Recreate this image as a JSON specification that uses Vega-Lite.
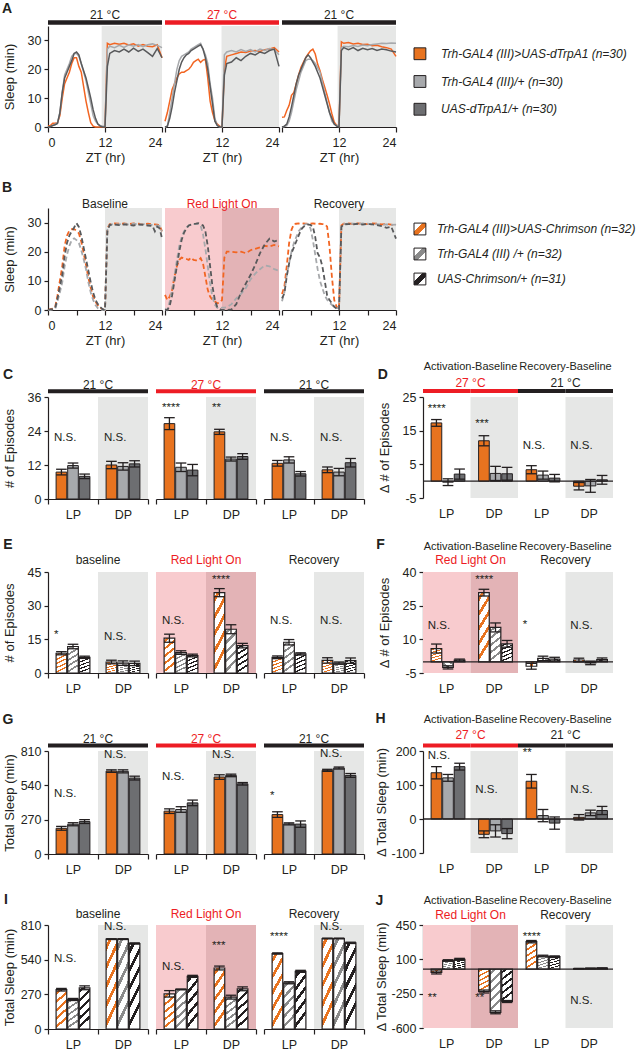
{
"$schema":"https://vega.github.io/schema/vega-lite/v6.json",
"padding":{"left":0,"top":2,"right":0,"bottom":0},
"config":{
 "font":"Liberation Sans",
 "view":{"stroke":null},
 "axis":{"labelFontSize":12.5,"titleFontSize":13,"titleFontWeight":"normal","labelColor":"#231F20","titleColor":"#231F20","domainColor":"#231F20","tickColor":"#231F20","domainWidth":1.2,"tickWidth":1.2,"tickSize":4,"grid":false,"labelPadding":3,"labelOverlap":false,"tickCount":12},
 "text":{"color":"#231F20","fontSize":12},
 "tick":{"bandSize":7,"thickness":1.3,"color":"#231F20","opacity":1},
 "rule":{"color":"#231F20"}
},
"datasets":{
 "PER":[{"p":"LP"},{"p":"DP"}],
 "ONE":[{"p":"LP"}],
 "K":[{"k":"ALP"},{"k":"ADP"},{"k":"RLP"},{"k":"RDP"}],
 "BGA":[{"d":1,"t0":11.3,"t1":24},{"d":2,"t0":11.9,"t1":24},{"d":3,"t0":11.7,"t1":24}],
 "BGB":[{"d":1,"ph":"DP","t0":12,"t1":24},{"d":2,"ph":"LP","t0":0,"t1":12},{"d":2,"ph":"DP","t0":12,"t1":24},{"d":3,"ph":"DP","t0":12,"t1":24}],
 "LGA":[{"g":"a","lab":"Trh-GAL4 (III)>UAS-dTrpA1 (n=30)"},{"g":"b","lab":"Trh-GAL4 (III)/+  (n=30)"},{"g":"c","lab":"UAS-dTrpA1/+  (n=30)"}],
 "LGB":[{"g":"a","lab":"Trh-GAL4 (III)>UAS-Chrimson  (n=32)"},{"g":"b","lab":"Trh-GAL4 (III) /+  (n=32)"},{"g":"c","lab":"UAS-Chrimson/+  (n=31)"}],
 "LA":[
{"d":1,"t":0,"a":0.3,"b":0,"c":0},{"d":1,"t":0.5,"a":0.5,"b":0.2,"c":0.2},{"d":1,"t":1,"a":1.3,"b":0.5,"c":0.5},{"d":1,"t":1.5,"a":1.3,"b":1,"c":0.8},{"d":1,"t":2,"a":1.5,"b":1.5,"c":1.2},{"d":1,"t":2.5,"a":4,"b":5,"c":5},{"d":1,"t":3,"a":10,"b":12,"c":12},{"d":1,"t":3.5,"a":15,"b":18,"c":17},{"d":1,"t":4,"a":17,"b":20,"c":19},{"d":1,"t":4.5,"a":19,"b":22,"c":21},{"d":1,"t":5,"a":22,"b":24.5,"c":23},{"d":1,"t":5.5,"a":24,"b":25.5,"c":25.5},{"d":1,"t":6,"a":24,"b":25.5,"c":26},{"d":1,"t":6.5,"a":21,"b":24.5,"c":25},{"d":1,"t":7,"a":19,"b":22,"c":22},{"d":1,"t":7.5,"a":14,"b":19,"c":19.5},{"d":1,"t":8,"a":9,"b":16,"c":17},{"d":1,"t":8.5,"a":5,"b":12,"c":13.5},{"d":1,"t":9,"a":1.5,"b":8,"c":10},{"d":1,"t":9.5,"a":0.3,"b":4,"c":6},{"d":1,"t":10,"a":0,"b":2,"c":3},{"d":1,"t":10.5,"a":0,"b":1,"c":1},{"d":1,"t":11,"a":0,"b":0.5,"c":0.3},{"d":1,"t":11.5,"a":0,"b":0.3,"c":0},{"d":1,"t":12,"a":0,"b":0.3,"c":0},{"d":1,"t":12.5,"a":29,"b":27,"c":21},{"d":1,"t":13,"a":28.5,"b":28,"c":25.5},{"d":1,"t":14,"a":29,"b":27.5,"c":26.5},{"d":1,"t":15,"a":28.7,"b":28.3,"c":26},{"d":1,"t":16,"a":29,"b":27.6,"c":27},{"d":1,"t":17,"a":28.4,"b":28.5,"c":26},{"d":1,"t":18,"a":28.8,"b":28,"c":27.3},{"d":1,"t":19,"a":28,"b":28.6,"c":26.2},{"d":1,"t":20,"a":28.6,"b":27.8,"c":27},{"d":1,"t":21,"a":28,"b":28.5,"c":25.8},{"d":1,"t":22,"a":27.8,"b":28.8,"c":24.5},{"d":1,"t":23,"a":28.5,"b":28.3,"c":27.2},{"d":1,"t":24,"a":24,"b":27.5,"c":24},
{"d":2,"t":0,"a":2,"b":0,"c":0},{"d":2,"t":0.5,"a":5,"b":0.3,"c":0.3},{"d":2,"t":1,"a":9,"b":5,"c":3},{"d":2,"t":1.5,"a":13,"b":10,"c":7},{"d":2,"t":2,"a":15,"b":15,"c":12},{"d":2,"t":2.5,"a":17,"b":20,"c":16},{"d":2,"t":3,"a":18.4,"b":23,"c":20},{"d":2,"t":3.5,"a":19,"b":24.5,"c":22.5},{"d":2,"t":4,"a":19,"b":25,"c":24},{"d":2,"t":4.5,"a":19.5,"b":25.5,"c":25},{"d":2,"t":5,"a":20,"b":26,"c":25.5},{"d":2,"t":5.5,"a":21,"b":27,"c":26.5},{"d":2,"t":6,"a":22.4,"b":27.5,"c":27},{"d":2,"t":6.5,"a":23,"b":28,"c":27.5},{"d":2,"t":7,"a":23.5,"b":28.5,"c":28},{"d":2,"t":7.5,"a":22.4,"b":29,"c":28.5},{"d":2,"t":8,"a":23.2,"b":27,"c":27},{"d":2,"t":8.5,"a":23.5,"b":25,"c":24},{"d":2,"t":9,"a":17,"b":22,"c":20},{"d":2,"t":9.5,"a":9,"b":15,"c":14},{"d":2,"t":10,"a":5,"b":10,"c":8},{"d":2,"t":10.5,"a":2.3,"b":3,"c":2},{"d":2,"t":11,"a":1,"b":0.5,"c":0.5},{"d":2,"t":11.5,"a":0.3,"b":0,"c":0},{"d":2,"t":12,"a":0,"b":0,"c":0},{"d":2,"t":12.5,"a":20,"b":25,"c":18},{"d":2,"t":13,"a":24.5,"b":26,"c":22},{"d":2,"t":14,"a":25,"b":26.5,"c":22.5},{"d":2,"t":15,"a":25.5,"b":26,"c":24},{"d":2,"t":16,"a":26,"b":26.8,"c":23},{"d":2,"t":17,"a":25.8,"b":26.2,"c":24.5},{"d":2,"t":18,"a":26.3,"b":26.8,"c":25.5},{"d":2,"t":19,"a":26.5,"b":26,"c":25},{"d":2,"t":20,"a":26.2,"b":27,"c":26},{"d":2,"t":21,"a":26.8,"b":26.5,"c":25.5},{"d":2,"t":22,"a":27,"b":27.2,"c":26.5},{"d":2,"t":23,"a":27.5,"b":26.8,"c":27},{"d":2,"t":24,"a":26,"b":25,"c":21},
{"d":3,"t":0,"a":3.4,"b":0,"c":0},{"d":3,"t":0.5,"a":3.5,"b":0.2,"c":0.3},{"d":3,"t":1,"a":5.7,"b":0.5,"c":1},{"d":3,"t":1.5,"a":7.5,"b":2,"c":3.5},{"d":3,"t":2,"a":11,"b":5,"c":7},{"d":3,"t":2.5,"a":12,"b":9,"c":11},{"d":3,"t":3,"a":15,"b":13,"c":15},{"d":3,"t":3.5,"a":18,"b":16,"c":18},{"d":3,"t":4,"a":20.7,"b":19,"c":20},{"d":3,"t":4.5,"a":22.4,"b":21,"c":22},{"d":3,"t":5,"a":24,"b":23,"c":24},{"d":3,"t":5.5,"a":25.3,"b":23.5,"c":25},{"d":3,"t":6,"a":26.4,"b":23.5,"c":24},{"d":3,"t":6.5,"a":27,"b":23,"c":22.5},{"d":3,"t":7,"a":25.3,"b":22,"c":21},{"d":3,"t":7.5,"a":21.8,"b":20.5,"c":19},{"d":3,"t":8,"a":19.5,"b":19,"c":17},{"d":3,"t":8.5,"a":16.5,"b":15.5,"c":14},{"d":3,"t":9,"a":13.8,"b":12,"c":11},{"d":3,"t":9.5,"a":11,"b":8.5,"c":8},{"d":3,"t":10,"a":8,"b":5,"c":5},{"d":3,"t":10.5,"a":4.6,"b":2,"c":3},{"d":3,"t":11,"a":1.7,"b":1,"c":1},{"d":3,"t":11.5,"a":0.6,"b":0.5,"c":0.3},{"d":3,"t":12,"a":0.3,"b":0.5,"c":0},{"d":3,"t":12.5,"a":29.5,"b":27.5,"c":26.5},{"d":3,"t":13,"a":29,"b":28,"c":27.5},{"d":3,"t":14,"a":29.3,"b":27.8,"c":26.8},{"d":3,"t":15,"a":28.8,"b":28.2,"c":27.5},{"d":3,"t":16,"a":29,"b":27.9,"c":26.5},{"d":3,"t":17,"a":28.6,"b":28.4,"c":27.3},{"d":3,"t":18,"a":28.7,"b":28.2,"c":26.8},{"d":3,"t":19,"a":28.2,"b":28.6,"c":27.2},{"d":3,"t":20,"a":28.3,"b":28.8,"c":26.5},{"d":3,"t":21,"a":27.8,"b":29,"c":27},{"d":3,"t":22,"a":27.5,"b":28.9,"c":26.8},{"d":3,"t":23,"a":27,"b":29.1,"c":26.3},{"d":3,"t":24,"a":24.5,"b":29,"c":26}
 ],
 "LB":[
{"d":1,"t":0,"a":0,"b":0,"c":0},{"d":1,"t":0.5,"a":0.3,"b":0,"c":0.2},{"d":1,"t":1,"a":0.5,"b":0.2,"c":0.3},{"d":1,"t":1.5,"a":1,"b":0.3,"c":0.6},{"d":1,"t":2,"a":5,"b":3,"c":4},{"d":1,"t":2.5,"a":10,"b":6,"c":8},{"d":1,"t":3,"a":15,"b":9.5,"c":12},{"d":1,"t":3.5,"a":22,"b":15,"c":18.5},{"d":1,"t":4,"a":25.5,"b":19,"c":23},{"d":1,"t":4.5,"a":27.3,"b":22,"c":25.5},{"d":1,"t":5,"a":27.7,"b":24,"c":27},{"d":1,"t":5.5,"a":27.7,"b":24.6,"c":28.3},{"d":1,"t":6,"a":27.2,"b":24,"c":29.8},{"d":1,"t":6.5,"a":26.3,"b":23,"c":28.5},{"d":1,"t":7,"a":23.5,"b":20.5,"c":25.5},{"d":1,"t":7.5,"a":19.5,"b":17.5,"c":21.5},{"d":1,"t":8,"a":15.5,"b":14,"c":17.5},{"d":1,"t":8.5,"a":11,"b":9.5,"c":13.5},{"d":1,"t":9,"a":7.5,"b":6,"c":9.5},{"d":1,"t":9.5,"a":4.5,"b":3.5,"c":6},{"d":1,"t":10,"a":2.9,"b":1.7,"c":3.5},{"d":1,"t":10.5,"a":1.5,"b":0.6,"c":2},{"d":1,"t":11,"a":0.7,"b":0.2,"c":1},{"d":1,"t":11.5,"a":0.2,"b":0,"c":0.3},{"d":1,"t":12,"a":0,"b":0,"c":0},{"d":1,"t":12.5,"a":28,"b":27.5,"c":27},{"d":1,"t":13,"a":29.5,"b":29.3,"c":29.2},{"d":1,"t":14,"a":29.7,"b":29.5,"c":29.3},{"d":1,"t":15,"a":29.6,"b":29.4,"c":29.1},{"d":1,"t":16,"a":29.7,"b":29.6,"c":29.4},{"d":1,"t":17,"a":29.5,"b":29.3,"c":29.2},{"d":1,"t":18,"a":29.7,"b":29.6,"c":29},{"d":1,"t":19,"a":29.6,"b":29.4,"c":29.3},{"d":1,"t":20,"a":29.5,"b":29.5,"c":29.2},{"d":1,"t":21,"a":29.6,"b":29.3,"c":29},{"d":1,"t":22,"a":29.4,"b":29.2,"c":28.8},{"d":1,"t":22.5,"a":29.4,"b":29.1,"c":27},{"d":1,"t":23,"a":29.3,"b":29,"c":28.6},{"d":1,"t":23.5,"a":29,"b":28.8,"c":28},{"d":1,"t":24,"a":27,"b":27,"c":24.6},
{"d":2,"t":0,"a":5.2,"b":0.5,"c":0},{"d":2,"t":0.5,"a":3.4,"b":0,"c":0},{"d":2,"t":1,"a":4.6,"b":3,"c":1.5},{"d":2,"t":1.5,"a":6.9,"b":7,"c":5},{"d":2,"t":2,"a":11.5,"b":12,"c":10},{"d":2,"t":2.5,"a":15,"b":17,"c":15},{"d":2,"t":3,"a":17.2,"b":22,"c":20},{"d":2,"t":3.5,"a":18,"b":25,"c":24},{"d":2,"t":4,"a":17.7,"b":27,"c":26.5},{"d":2,"t":4.5,"a":17.5,"b":28.3,"c":28},{"d":2,"t":5,"a":17.2,"b":29,"c":29},{"d":2,"t":5.5,"a":18,"b":29.3,"c":29.3},{"d":2,"t":6,"a":17.2,"b":29.5,"c":29.5},{"d":2,"t":6.5,"a":17,"b":29.5,"c":29.6},{"d":2,"t":7,"a":17,"b":29.5,"c":29.8},{"d":2,"t":7.5,"a":17.8,"b":29,"c":29.5},{"d":2,"t":8,"a":16,"b":26,"c":29},{"d":2,"t":8.5,"a":11.5,"b":21,"c":27},{"d":2,"t":9,"a":6.9,"b":15,"c":22},{"d":2,"t":9.5,"a":4.6,"b":9,"c":15},{"d":2,"t":10,"a":3.4,"b":4.5,"c":8},{"d":2,"t":10.5,"a":2.9,"b":1.8,"c":3.5},{"d":2,"t":11,"a":2.3,"b":0.8,"c":1},{"d":2,"t":11.5,"a":2.5,"b":0.5,"c":0.3},{"d":2,"t":12,"a":3.4,"b":0.8,"c":0},{"d":2,"t":12.5,"a":18,"b":0.8,"c":0},{"d":2,"t":13,"a":20,"b":1,"c":0},{"d":2,"t":14,"a":20,"b":2,"c":0.2},{"d":2,"t":15,"a":19.8,"b":4,"c":2},{"d":2,"t":16,"a":20,"b":5.5,"c":6},{"d":2,"t":17,"a":19.5,"b":7.5,"c":9},{"d":2,"t":18,"a":20.5,"b":10.5,"c":12},{"d":2,"t":19,"a":21,"b":12.5,"c":15.5},{"d":2,"t":20,"a":21.5,"b":14,"c":19.5},{"d":2,"t":21,"a":22,"b":15.3,"c":22.5},{"d":2,"t":22,"a":21.8,"b":15,"c":24.5},{"d":2,"t":23,"a":22.3,"b":14,"c":23.5},{"d":2,"t":24,"a":21.8,"b":13.5,"c":24},
{"d":3,"t":0,"a":5.5,"b":3,"c":4},{"d":3,"t":0.5,"a":8,"b":6,"c":5.7},{"d":3,"t":1,"a":15,"b":12,"c":11.5},{"d":3,"t":1.5,"a":23,"b":16,"c":16},{"d":3,"t":2,"a":27.5,"b":20,"c":19.5},{"d":3,"t":2.5,"a":29.5,"b":23,"c":21.5},{"d":3,"t":3,"a":29.6,"b":25,"c":23.5},{"d":3,"t":3.5,"a":29.7,"b":27,"c":25.5},{"d":3,"t":4,"a":29.6,"b":28,"c":27.5},{"d":3,"t":4.5,"a":29.7,"b":29,"c":28.5},{"d":3,"t":5,"a":29.6,"b":29.5,"c":29.2},{"d":3,"t":5.5,"a":29.7,"b":29.5,"c":29.3},{"d":3,"t":6,"a":29.6,"b":28,"c":29.2},{"d":3,"t":6.5,"a":29.7,"b":24,"c":28.6},{"d":3,"t":7,"a":29.6,"b":19,"c":25},{"d":3,"t":7.5,"a":29.5,"b":14,"c":19.5},{"d":3,"t":8,"a":29.6,"b":10,"c":18},{"d":3,"t":8.5,"a":29.5,"b":7.5,"c":15},{"d":3,"t":9,"a":29.4,"b":5,"c":10},{"d":3,"t":9.5,"a":28.6,"b":3.5,"c":5},{"d":3,"t":10,"a":21.8,"b":2.5,"c":3.4},{"d":3,"t":10.5,"a":11.5,"b":1.8,"c":2.3},{"d":3,"t":11,"a":3.4,"b":1,"c":1.1},{"d":3,"t":11.5,"a":1.1,"b":0.7,"c":0.5},{"d":3,"t":12,"a":0.5,"b":0.5,"c":0},{"d":3,"t":12.5,"a":29,"b":29,"c":28.5},{"d":3,"t":13,"a":29.6,"b":29.5,"c":29.4},{"d":3,"t":14,"a":29.7,"b":29.6,"c":29.5},{"d":3,"t":15,"a":29.5,"b":29.6,"c":29.4},{"d":3,"t":16,"a":29.7,"b":29.5,"c":29.6},{"d":3,"t":17,"a":29.6,"b":29.7,"c":29.3},{"d":3,"t":18,"a":29.5,"b":29.6,"c":29.5},{"d":3,"t":19,"a":29.7,"b":29.4,"c":29.4},{"d":3,"t":20,"a":29.6,"b":29.5,"c":29.1},{"d":3,"t":21,"a":29.4,"b":29.3,"c":28.8},{"d":3,"t":22,"a":29.5,"b":29.4,"c":28.2},{"d":3,"t":23,"a":29.3,"b":29.2,"c":28.6},{"d":3,"t":24,"a":29,"b":29.3,"c":24.5}
 ],
 "BL":[
{"q":"C","c":1,"p":"LP","g":"a","m":9.5,"lo":8.5,"hi":10.5},{"q":"C","c":1,"p":"LP","g":"b","m":11.8,"lo":10.9,"hi":12.7},{"q":"C","c":1,"p":"LP","g":"c","m":8,"lo":7.2,"hi":8.8},
{"q":"C","c":1,"p":"DP","g":"a","m":12,"lo":10.7,"hi":13.3},{"q":"C","c":1,"p":"DP","g":"b","m":11.5,"lo":10.2,"hi":12.8},{"q":"C","c":1,"p":"DP","g":"c","m":12.4,"lo":11.3,"hi":13.5},
{"q":"C","c":2,"p":"LP","g":"a","m":26.6,"lo":24.5,"hi":28.7},{"q":"C","c":2,"p":"LP","g":"b","m":11.2,"lo":9.7,"hi":12.7},{"q":"C","c":2,"p":"LP","g":"c","m":10.2,"lo":8.2,"hi":12.2},
{"q":"C","c":2,"p":"DP","g":"a","m":23.7,"lo":22.8,"hi":24.6},{"q":"C","c":2,"p":"DP","g":"b","m":14.1,"lo":13.4,"hi":14.8},{"q":"C","c":2,"p":"DP","g":"c","m":15,"lo":14,"hi":16},
{"q":"C","c":3,"p":"LP","g":"a","m":12.6,"lo":11.6,"hi":13.6},{"q":"C","c":3,"p":"LP","g":"b","m":13.8,"lo":12.7,"hi":14.9},{"q":"C","c":3,"p":"LP","g":"c","m":8.9,"lo":8.1,"hi":9.7},
{"q":"C","c":3,"p":"DP","g":"a","m":10.3,"lo":9.3,"hi":11.3},{"q":"C","c":3,"p":"DP","g":"b","m":9.5,"lo":8.2,"hi":10.8},{"q":"C","c":3,"p":"DP","g":"c","m":12.8,"lo":11.3,"hi":14.3},
{"q":"E","c":1,"p":"LP","g":"a","m":8.8,"lo":8.1,"hi":9.5},{"q":"E","c":1,"p":"LP","g":"b","m":11.8,"lo":10.8,"hi":12.8},{"q":"E","c":1,"p":"LP","g":"c","m":7,"lo":6.5,"hi":7.5},
{"q":"E","c":1,"p":"DP","g":"a","m":4.9,"lo":4.1,"hi":5.7},{"q":"E","c":1,"p":"DP","g":"b","m":4.4,"lo":3.4,"hi":5.4},{"q":"E","c":1,"p":"DP","g":"c","m":4.3,"lo":3.3,"hi":5.3},
{"q":"E","c":2,"p":"LP","g":"a","m":15.5,"lo":13.7,"hi":17.3},{"q":"E","c":2,"p":"LP","g":"b","m":9.1,"lo":8.3,"hi":9.9},{"q":"E","c":2,"p":"LP","g":"c","m":7.8,"lo":7.2,"hi":8.4},
{"q":"E","c":2,"p":"DP","g":"a","m":35.8,"lo":34,"hi":37.6},{"q":"E","c":2,"p":"DP","g":"b","m":19.5,"lo":17.5,"hi":21.5},{"q":"E","c":2,"p":"DP","g":"c","m":12.2,"lo":11.2,"hi":13.2},
{"q":"E","c":3,"p":"LP","g":"a","m":7,"lo":6.4,"hi":7.6},{"q":"E","c":3,"p":"LP","g":"b","m":13.7,"lo":12.5,"hi":14.9},{"q":"E","c":3,"p":"LP","g":"c","m":8.5,"lo":8,"hi":9},
{"q":"E","c":3,"p":"DP","g":"a","m":5.6,"lo":4.4,"hi":6.8},{"q":"E","c":3,"p":"DP","g":"b","m":4.4,"lo":3.9,"hi":4.9},{"q":"E","c":3,"p":"DP","g":"c","m":5.5,"lo":4.3,"hi":6.7},
{"q":"G","c":1,"p":"LP","g":"a","m":202,"lo":187,"hi":217},{"q":"G","c":1,"p":"LP","g":"b","m":234,"lo":222,"hi":246},{"q":"G","c":1,"p":"LP","g":"c","m":255,"lo":240,"hi":270},
{"q":"G","c":1,"p":"DP","g":"a","m":652,"lo":642,"hi":662},{"q":"G","c":1,"p":"DP","g":"b","m":650,"lo":638,"hi":662},{"q":"G","c":1,"p":"DP","g":"c","m":597,"lo":582,"hi":612},
{"q":"G","c":2,"p":"LP","g":"a","m":337,"lo":319,"hi":355},{"q":"G","c":2,"p":"LP","g":"b","m":350,"lo":328,"hi":372},{"q":"G","c":2,"p":"LP","g":"c","m":402,"lo":380,"hi":424},
{"q":"G","c":2,"p":"DP","g":"a","m":605,"lo":587,"hi":623},{"q":"G","c":2,"p":"DP","g":"b","m":618,"lo":608,"hi":628},{"q":"G","c":2,"p":"DP","g":"c","m":552,"lo":542,"hi":562},
{"q":"G","c":3,"p":"LP","g":"a","m":310,"lo":288,"hi":332},{"q":"G","c":3,"p":"LP","g":"b","m":237,"lo":229,"hi":245},{"q":"G","c":3,"p":"LP","g":"c","m":235,"lo":210,"hi":260},
{"q":"G","c":3,"p":"DP","g":"a","m":658,"lo":650,"hi":666},{"q":"G","c":3,"p":"DP","g":"b","m":676,"lo":668,"hi":684},{"q":"G","c":3,"p":"DP","g":"c","m":618,"lo":603,"hi":633},
{"q":"I","c":1,"p":"LP","g":"a","m":306,"lo":296,"hi":316},{"q":"I","c":1,"p":"LP","g":"b","m":230,"lo":222,"hi":238},{"q":"I","c":1,"p":"LP","g":"c","m":321,"lo":306,"hi":336},
{"q":"I","c":1,"p":"DP","g":"a","m":700,"lo":697,"hi":703},{"q":"I","c":1,"p":"DP","g":"b","m":700,"lo":697,"hi":703},{"q":"I","c":1,"p":"DP","g":"c","m":666,"lo":661,"hi":671},
{"q":"I","c":2,"p":"LP","g":"a","m":274,"lo":249,"hi":299},{"q":"I","c":2,"p":"LP","g":"b","m":308,"lo":305,"hi":311},{"q":"I","c":2,"p":"LP","g":"c","m":410,"lo":402,"hi":418},
{"q":"I","c":2,"p":"DP","g":"a","m":475,"lo":460,"hi":490},{"q":"I","c":2,"p":"DP","g":"b","m":248,"lo":233,"hi":263},{"q":"I","c":2,"p":"DP","g":"c","m":313,"lo":298,"hi":328},
{"q":"I","c":3,"p":"LP","g":"a","m":588,"lo":583,"hi":593},{"q":"I","c":3,"p":"LP","g":"b","m":360,"lo":352,"hi":368},{"q":"I","c":3,"p":"LP","g":"c","m":449,"lo":441,"hi":457},
{"q":"I","c":3,"p":"DP","g":"a","m":705,"lo":702,"hi":708},{"q":"I","c":3,"p":"DP","g":"b","m":705,"lo":702,"hi":708},{"q":"I","c":3,"p":"DP","g":"c","m":671,"lo":666,"hi":676}
 ],
 "BR":[
{"q":"D","k":"ALP","g":"a","m":17.3,"lo":16.3,"hi":18.3},{"q":"D","k":"ALP","g":"b","m":-0.3,"lo":-1.3,"hi":0.7},{"q":"D","k":"ALP","g":"c","m":2.1,"lo":0.6,"hi":3.6},
{"q":"D","k":"ADP","g":"a","m":12,"lo":10.5,"hi":13.5},{"q":"D","k":"ADP","g":"b","m":2.3,"lo":0.2,"hi":4.4},{"q":"D","k":"ADP","g":"c","m":2.2,"lo":0.3,"hi":4.1},
{"q":"D","k":"RLP","g":"a","m":3.4,"lo":2.2,"hi":4.6},{"q":"D","k":"RLP","g":"b","m":1.8,"lo":0.6,"hi":3},{"q":"D","k":"RLP","g":"c","m":0.9,"lo":-0.2,"hi":2},
{"q":"D","k":"RDP","g":"a","m":-1.5,"lo":-2.6,"hi":-0.4},{"q":"D","k":"RDP","g":"b","m":-1.4,"lo":-3.3,"hi":0.5},{"q":"D","k":"RDP","g":"c","m":0.4,"lo":-0.9,"hi":1.7},
{"q":"F","k":"ALP","g":"a","m":5.9,"lo":3.9,"hi":7.9},{"q":"F","k":"ALP","g":"b","m":-2.5,"lo":-3.2,"hi":-1.8},{"q":"F","k":"ALP","g":"c","m":0.8,"lo":0.4,"hi":1.2},
{"q":"F","k":"ADP","g":"a","m":30.8,"lo":29.3,"hi":32.3},{"q":"F","k":"ADP","g":"b","m":15.3,"lo":13.3,"hi":17.3},{"q":"F","k":"ADP","g":"c","m":8,"lo":6.5,"hi":9.5},
{"q":"F","k":"RLP","g":"a","m":-2,"lo":-3.3,"hi":-0.7},{"q":"F","k":"RLP","g":"b","m":1.5,"lo":0.5,"hi":2.5},{"q":"F","k":"RLP","g":"c","m":1.2,"lo":0.4,"hi":2},
{"q":"F","k":"RDP","g":"a","m":0.8,"lo":0,"hi":1.6},{"q":"F","k":"RDP","g":"b","m":-0.5,"lo":-1.3,"hi":0.3},{"q":"F","k":"RDP","g":"c","m":1,"lo":0.3,"hi":1.7},
{"q":"H","k":"ALP","g":"a","m":136,"lo":118,"hi":154},{"q":"H","k":"ALP","g":"b","m":121,"lo":111,"hi":131},{"q":"H","k":"ALP","g":"c","m":154,"lo":144,"hi":164},
{"q":"H","k":"ADP","g":"a","m":-45,"lo":-55,"hi":-35},{"q":"H","k":"ADP","g":"b","m":-35,"lo":-53,"hi":-17},{"q":"H","k":"ADP","g":"c","m":-43,"lo":-58,"hi":-28},
{"q":"H","k":"RLP","g":"a","m":111,"lo":91,"hi":131},{"q":"H","k":"RLP","g":"b","m":10,"lo":-8,"hi":28},{"q":"H","k":"RLP","g":"c","m":-12,"lo":-30,"hi":6},
{"q":"H","k":"RDP","g":"a","m":5,"lo":-3,"hi":13},{"q":"H","k":"RDP","g":"b","m":18,"lo":10,"hi":26},{"q":"H","k":"RDP","g":"c","m":25,"lo":13,"hi":37},
{"q":"J","k":"ALP","g":"a","m":-34,"lo":-49,"hi":-19},{"q":"J","k":"ALP","g":"b","m":88,"lo":80,"hi":96},{"q":"J","k":"ALP","g":"c","m":100,"lo":90,"hi":110},
{"q":"J","k":"ADP","g":"a","m":-228,"lo":-243,"hi":-213},{"q":"J","k":"ADP","g":"b","m":-440,"lo":-455,"hi":-425},{"q":"J","k":"ADP","g":"c","m":-330,"lo":-340,"hi":-320},
{"q":"J","k":"RLP","g":"a","m":280,"lo":268,"hi":292},{"q":"J","k":"RLP","g":"b","m":134,"lo":126,"hi":142},{"q":"J","k":"RLP","g":"c","m":127,"lo":119,"hi":135},
{"q":"J","k":"RDP","g":"a","m":5,"lo":2,"hi":8},{"q":"J","k":"RDP","g":"b","m":8,"lo":5,"hi":11},{"q":"J","k":"RDP","g":"c","m":10,"lo":7,"hi":13}
 ],
 "SL":[
{"q":"C","c":1,"p":"LP","s":"N.S.","y":21.5},{"q":"C","c":1,"p":"DP","s":"N.S.","y":21.5},{"q":"C","c":2,"p":"LP","s":"****","y":32},{"q":"C","c":2,"p":"DP","s":"**","y":32},{"q":"C","c":3,"p":"LP","s":"N.S.","y":21.5},{"q":"C","c":3,"p":"DP","s":"N.S.","y":21.5},
{"q":"E","c":1,"p":"LP","s":"*","y":17},{"q":"E","c":1,"p":"DP","s":"N.S.","y":16.2},{"q":"E","c":2,"p":"LP","s":"N.S.","y":23},{"q":"E","c":2,"p":"DP","s":"****","y":41.5},{"q":"E","c":3,"p":"LP","s":"N.S.","y":23},{"q":"E","c":3,"p":"DP","s":"N.S.","y":23},
{"q":"G","c":1,"p":"LP","s":"N.S.","y":470},{"q":"G","c":1,"p":"DP","s":"N.S.","y":775},{"q":"G","c":2,"p":"LP","s":"N.S.","y":605},{"q":"G","c":2,"p":"DP","s":"N.S.","y":775},{"q":"G","c":3,"p":"LP","s":"*","y":460},{"q":"G","c":3,"p":"DP","s":"N.S.","y":785},
{"q":"I","c":1,"p":"LP","s":"N.S.","y":549},{"q":"I","c":1,"p":"DP","s":"N.S.","y":797},{"q":"I","c":2,"p":"LP","s":"N.S.","y":483},{"q":"I","c":2,"p":"DP","s":"***","y":645},{"q":"I","c":3,"p":"LP","s":"****","y":718},{"q":"I","c":3,"p":"DP","s":"N.S.","y":797}
 ],
 "SR":[
{"q":"D","k":"ALP","s":"****","y":21.4},{"q":"D","k":"ADP","s":"***","y":17},{"q":"D","k":"RLP","s":"N.S.","y":10.5},{"q":"D","k":"RDP","s":"N.S.","y":10.5},
{"q":"F","k":"ALP","s":"N.S.","y":16},{"q":"F","k":"ADP","s":"****","y":36.5},{"q":"F","k":"RLP","s":"*","y":16.5},{"q":"F","k":"RDP","s":"N.S.","y":16},
{"q":"H","k":"ALP","s":"N.S.","y":186},{"q":"H","k":"ADP","s":"N.S.","y":84},{"q":"H","k":"RLP","s":"**","y":193},{"q":"H","k":"RDP","s":"N.S.","y":84},
{"q":"J","k":"ALP","s":"**","y":-296},{"q":"J","k":"ADP","s":"**","y":-296},{"q":"J","k":"RLP","s":"****","y":330},{"q":"J","k":"RDP","s":"N.S.","y":-320}
 ]
},
"spacing":13,
"vconcat":[
{"spacing":16,"vconcat":[
 {"spacing":3,"bounds":"flush","hconcat":[
  {"width":45,"height":101,"data":{"name":"ONE"},"mark":{"type":"text","text":"A","fontSize":14,"fontWeight":"bold","baseline":"middle","align":"center"},"encoding":{"x":{"datum":0.156,"type":"quantitative","scale":{"domain":[0,1]},"axis":null},"y":{"datum":1.168,"type":"quantitative","scale":{"domain":[0,1]},"axis":null}}},
  {"width":114,"height":101,"layer":[
   {"data":{"name":"BGA"},"transform":[{"filter":"datum.d==1"}],"mark":{"type":"rect","color":"#E6E7E6"},"encoding":{"x":{"field":"t0","type":"quantitative","scale":{"domain":[0,24],"nice":false},"axis":{"title":"ZT (hr)","values":[0,12,24],"tickSize":5,"labelPadding":4,"titlePadding":3}},"x2":{"field":"t1"},"y":{"datum":0,"type":"quantitative","scale":{"domain":[0,35],"nice":false}},"y2":{"datum":35}}},
   {"data":{"name":"BGA"},"transform":[{"filter":"datum.d==1"}],"mark":{"type":"rule","strokeWidth":4.5,"color":"#231F20"},"encoding":{"y":{"datum":36.2,"type":"quantitative","scale":{"domain":[0,35],"nice":false}}}},
   {"data":{"name":"BGA"},"transform":[{"filter":"datum.d==1"}],"mark":{"type":"text","text":"21 °C","baseline":"middle","fontSize":12},"encoding":{"x":{"datum":12,"type":"quantitative","scale":{"domain":[0,24],"nice":false}},"y":{"datum":38.8,"type":"quantitative","scale":{"domain":[0,35],"nice":false}}}},
   {"data":{"name":"LA"},"transform":[{"filter":"datum.d==1"},{"fold":["a","b","c"],"as":["g","v"]}],"mark":{"type":"line","strokeWidth":1.5},"encoding":{"x":{"field":"t","type":"quantitative","scale":{"domain":[0,24],"nice":false}},"y":{"field":"v","type":"quantitative","scale":{"domain":[0,35],"nice":false},"axis":{"title":"Sleep (min)","values":[0,10,20,30],"titlePadding":11}},"stroke":{"field":"g","type":"nominal","scale":{"domain":["a","b","c"],"range":["#F26522","#A7A9AC","#58595B"]},"legend":null}}}
  ]},
  {"width":114,"height":101,"layer":[
   {"data":{"name":"BGA"},"transform":[{"filter":"datum.d==2"}],"mark":{"type":"rect","color":"#E6E7E6"},"encoding":{"x":{"field":"t0","type":"quantitative","scale":{"domain":[0,24],"nice":false},"axis":{"title":"ZT (hr)","values":[0,12,24],"tickSize":5,"labelPadding":4,"titlePadding":3,"labelExpr":"datum.value==0?'':datum.label"}},"x2":{"field":"t1"},"y":{"datum":0,"type":"quantitative","scale":{"domain":[0,35],"nice":false},"axis":null},"y2":{"datum":35}}},
   {"data":{"name":"BGA"},"transform":[{"filter":"datum.d==2"}],"mark":{"type":"rule","strokeWidth":4.5,"color":"#ED1C24"},"encoding":{"y":{"datum":36.2,"type":"quantitative","scale":{"domain":[0,35],"nice":false},"axis":null}}},
   {"data":{"name":"BGA"},"transform":[{"filter":"datum.d==2"}],"mark":{"type":"text","text":"27 °C","baseline":"middle","fontSize":12,"color":"#ED1C24"},"encoding":{"x":{"datum":12,"type":"quantitative","scale":{"domain":[0,24],"nice":false}},"y":{"datum":38.8,"type":"quantitative","scale":{"domain":[0,35],"nice":false},"axis":null}}},
   {"data":{"name":"LA"},"transform":[{"filter":"datum.d==2"},{"fold":["a","b","c"],"as":["g","v"]}],"mark":{"type":"line","strokeWidth":1.5},"encoding":{"x":{"field":"t","type":"quantitative","scale":{"domain":[0,24],"nice":false}},"y":{"field":"v","type":"quantitative","scale":{"domain":[0,35],"nice":false},"axis":null},"stroke":{"field":"g","type":"nominal","scale":{"domain":["a","b","c"],"range":["#F26522","#A7A9AC","#58595B"]},"legend":null}}}
  ]},
  {"width":114,"height":101,"layer":[
   {"data":{"name":"BGA"},"transform":[{"filter":"datum.d==3"}],"mark":{"type":"rect","color":"#E6E7E6"},"encoding":{"x":{"field":"t0","type":"quantitative","scale":{"domain":[0,24],"nice":false},"axis":{"title":"ZT (hr)","values":[0,12,24],"tickSize":5,"labelPadding":4,"titlePadding":3,"labelExpr":"datum.value==0?'':datum.label"}},"x2":{"field":"t1"},"y":{"datum":0,"type":"quantitative","scale":{"domain":[0,35],"nice":false},"axis":null},"y2":{"datum":35}}},
   {"data":{"name":"BGA"},"transform":[{"filter":"datum.d==3"}],"mark":{"type":"rule","strokeWidth":4.5,"color":"#231F20"},"encoding":{"y":{"datum":36.2,"type":"quantitative","scale":{"domain":[0,35],"nice":false},"axis":null}}},
   {"data":{"name":"BGA"},"transform":[{"filter":"datum.d==3"}],"mark":{"type":"text","text":"21 °C","baseline":"middle","fontSize":12},"encoding":{"x":{"datum":12,"type":"quantitative","scale":{"domain":[0,24],"nice":false}},"y":{"datum":38.8,"type":"quantitative","scale":{"domain":[0,35],"nice":false},"axis":null}}},
   {"data":{"name":"LA"},"transform":[{"filter":"datum.d==3"},{"fold":["a","b","c"],"as":["g","v"]}],"mark":{"type":"line","strokeWidth":1.5},"encoding":{"x":{"field":"t","type":"quantitative","scale":{"domain":[0,24],"nice":false}},"y":{"field":"v","type":"quantitative","scale":{"domain":[0,35],"nice":false},"axis":null},"stroke":{"field":"g","type":"nominal","scale":{"domain":["a","b","c"],"range":["#F26522","#A7A9AC","#58595B"]},"legend":null}}}
  ]},
  {"width":230,"height":111,"data":{"name":"LGA"},"layer":[
   {"mark":{"type":"square","size":140,"opacity":1,"stroke":"#231F20","strokeWidth":1},"encoding":{"x":{"datum":0.091,"type":"quantitative","scale":{"domain":[0,1],"nice":false},"axis":null},"y":{"field":"g","type":"nominal","scale":{"type":"point","domain":["a","b","c"],"padding":2},"axis":null},"fill":{"field":"g","type":"nominal","scale":{"domain":["a","b","c"],"range":["#E8731F","#A7A9AC","#6D6E71"]},"legend":null}}},
   {"mark":{"type":"text","align":"left","baseline":"middle","fontSize":12,"fontStyle":"italic"},"encoding":{"x":{"datum":0.183,"type":"quantitative","scale":{"domain":[0,1],"nice":false},"axis":null},"y":{"field":"g","type":"nominal","axis":null},"text":{"field":"lab"}}}
  ]}
 ]},
 {"spacing":3,"bounds":"flush","hconcat":[
  {"width":45,"height":102,"data":{"name":"ONE"},"mark":{"type":"text","text":"B","fontSize":14,"fontWeight":"bold","baseline":"middle","align":"center"},"encoding":{"x":{"datum":0.156,"type":"quantitative","scale":{"domain":[0,1]},"axis":null},"y":{"datum":1.196,"type":"quantitative","scale":{"domain":[0,1]},"axis":null}}},
  {"width":114,"height":102,"layer":[
   {"data":{"name":"BGB"},"transform":[{"filter":"datum.d==1"}],"mark":{"type":"rect"},"encoding":{"x":{"field":"t0","type":"quantitative","scale":{"domain":[0,24],"nice":false},"axis":{"title":"ZT (hr)","values":[0,6,12,18,24],"tickSize":5,"labelPadding":4,"titlePadding":3,"labelExpr":"datum.value%12==0?datum.label:''"}},"x2":{"field":"t1"},"y":{"datum":0,"type":"quantitative","scale":{"domain":[0,35],"nice":false}},"y2":{"datum":35},"fill":{"condition":[{"test":"datum.d==2&&datum.ph=='LP'","value":"#F8CBCE"},{"test":"datum.d==2","value":"#E3B3B6"}],"value":"#E6E7E6"}}},
   {"data":{"name":"BGB"},"transform":[{"filter":"datum.d==1&&datum.ph=='DP'"}],"mark":{"type":"text","text":"Baseline","baseline":"middle","fontSize":12},"encoding":{"x":{"datum":12,"type":"quantitative","scale":{"domain":[0,24],"nice":false}},"y":{"datum":36.4,"type":"quantitative","scale":{"domain":[0,35],"nice":false}}}},
   {"data":{"name":"LB"},"transform":[{"filter":"datum.d==1"},{"fold":["a","b","c"],"as":["g","v"]}],"mark":{"type":"line","strokeWidth":1.8,"strokeDash":[5,3]},"encoding":{"x":{"field":"t","type":"quantitative","scale":{"domain":[0,24],"nice":false}},"y":{"field":"v","type":"quantitative","scale":{"domain":[0,35],"nice":false},"axis":{"title":"Sleep (min)","values":[0,10,20,30],"titlePadding":11}},"stroke":{"field":"g","type":"nominal","scale":{"domain":["a","b","c"],"range":["#E8731F","#6D6E71","#231F20"]},"legend":null}}}
  ]},
  {"width":114,"height":102,"layer":[
   {"data":{"name":"BGB"},"transform":[{"filter":"datum.d==2"}],"mark":{"type":"rect"},"encoding":{"x":{"field":"t0","type":"quantitative","scale":{"domain":[0,24],"nice":false},"axis":{"title":"ZT (hr)","values":[0,6,12,18,24],"tickSize":5,"labelPadding":4,"titlePadding":3,"labelExpr":"(datum.value==12||datum.value==24)?datum.label:''"}},"x2":{"field":"t1"},"y":{"datum":0,"type":"quantitative","scale":{"domain":[0,35],"nice":false},"axis":null},"y2":{"datum":35},"fill":{"condition":[{"test":"datum.d==2&&datum.ph=='LP'","value":"#F8CBCE"},{"test":"datum.d==2","value":"#E3B3B6"}],"value":"#E6E7E6"}}},
   {"data":{"name":"BGB"},"transform":[{"filter":"datum.d==2&&datum.ph=='DP'"}],"mark":{"type":"text","text":"Red Light On","baseline":"middle","fontSize":12,"color":"#ED1C24"},"encoding":{"x":{"datum":12,"type":"quantitative","scale":{"domain":[0,24],"nice":false}},"y":{"datum":36.4,"type":"quantitative","scale":{"domain":[0,35],"nice":false},"axis":null}}},
   {"data":{"name":"LB"},"transform":[{"filter":"datum.d==2"},{"fold":["a","b","c"],"as":["g","v"]}],"mark":{"type":"line","strokeWidth":1.8,"strokeDash":[5,3]},"encoding":{"x":{"field":"t","type":"quantitative","scale":{"domain":[0,24],"nice":false}},"y":{"field":"v","type":"quantitative","scale":{"domain":[0,35],"nice":false},"axis":null},"stroke":{"field":"g","type":"nominal","scale":{"domain":["a","b","c"],"range":["#E8731F","#6D6E71","#231F20"]},"legend":null}}}
  ]},
  {"width":114,"height":102,"layer":[
   {"data":{"name":"BGB"},"transform":[{"filter":"datum.d==3"}],"mark":{"type":"rect"},"encoding":{"x":{"field":"t0","type":"quantitative","scale":{"domain":[0,24],"nice":false},"axis":{"title":"ZT (hr)","values":[0,6,12,18,24],"tickSize":5,"labelPadding":4,"titlePadding":3,"labelExpr":"(datum.value==12||datum.value==24)?datum.label:''"}},"x2":{"field":"t1"},"y":{"datum":0,"type":"quantitative","scale":{"domain":[0,35],"nice":false},"axis":null},"y2":{"datum":35},"fill":{"condition":[{"test":"datum.d==2&&datum.ph=='LP'","value":"#F8CBCE"},{"test":"datum.d==2","value":"#E3B3B6"}],"value":"#E6E7E6"}}},
   {"data":{"name":"BGB"},"transform":[{"filter":"datum.d==3&&datum.ph=='DP'"}],"mark":{"type":"text","text":"Recovery","baseline":"middle","fontSize":12},"encoding":{"x":{"datum":12,"type":"quantitative","scale":{"domain":[0,24],"nice":false}},"y":{"datum":36.4,"type":"quantitative","scale":{"domain":[0,35],"nice":false},"axis":null}}},
   {"data":{"name":"LB"},"transform":[{"filter":"datum.d==3"},{"fold":["a","b","c"],"as":["g","v"]}],"mark":{"type":"line","strokeWidth":1.8,"strokeDash":[5,3]},"encoding":{"x":{"field":"t","type":"quantitative","scale":{"domain":[0,24],"nice":false}},"y":{"field":"v","type":"quantitative","scale":{"domain":[0,35],"nice":false},"axis":null},"stroke":{"field":"g","type":"nominal","scale":{"domain":["a","b","c"],"range":["#E8731F","#6D6E71","#231F20"]},"legend":null}}}
  ]},
  {"width":230,"height":92,"data":{"name":"LGB"},"layer":[
   {"transform":[{"filter":"datum.g=='a'"}],"mark":{"type":"square","size":140,"opacity":1,"stroke":"#231F20","strokeWidth":1,"fill":{"gradient":"linear","x1":0,"y1":0,"x2":1,"y2":1,"stops":[{"offset":0,"color":"#ffffff"},{"offset":0.36,"color":"#ffffff"},{"offset":0.36,"color":"#E8731F"},{"offset":0.64,"color":"#E8731F"},{"offset":0.64,"color":"#ffffff"},{"offset":1,"color":"#ffffff"}]}},"encoding":{"x":{"datum":0.091,"type":"quantitative","scale":{"domain":[0,1],"nice":false},"axis":null},"y":{"field":"g","type":"nominal","scale":{"type":"point","domain":["a","b","c"],"padding":0.84},"axis":null}}},
   {"transform":[{"filter":"datum.g=='b'"}],"mark":{"type":"square","size":140,"opacity":1,"stroke":"#231F20","strokeWidth":1,"fill":{"gradient":"linear","x1":0,"y1":0,"x2":1,"y2":1,"stops":[{"offset":0,"color":"#ffffff"},{"offset":0.36,"color":"#ffffff"},{"offset":0.36,"color":"#8A8A8A"},{"offset":0.64,"color":"#8A8A8A"},{"offset":0.64,"color":"#ffffff"},{"offset":1,"color":"#ffffff"}]}},"encoding":{"x":{"datum":0.091,"type":"quantitative","scale":{"domain":[0,1],"nice":false},"axis":null},"y":{"field":"g","type":"nominal","axis":null}}},
   {"transform":[{"filter":"datum.g=='c'"}],"mark":{"type":"square","size":140,"opacity":1,"stroke":"#231F20","strokeWidth":1,"fill":{"gradient":"linear","x1":0,"y1":0,"x2":1,"y2":1,"stops":[{"offset":0,"color":"#ffffff"},{"offset":0.36,"color":"#ffffff"},{"offset":0.36,"color":"#231F20"},{"offset":0.64,"color":"#231F20"},{"offset":0.64,"color":"#ffffff"},{"offset":1,"color":"#ffffff"}]}},"encoding":{"x":{"datum":0.091,"type":"quantitative","scale":{"domain":[0,1],"nice":false},"axis":null},"y":{"field":"g","type":"nominal","axis":null}}},
   {"mark":{"type":"text","align":"left","baseline":"middle","fontSize":12,"fontStyle":"italic"},"encoding":{"x":{"datum":0.165,"type":"quantitative","scale":{"domain":[0,1],"nice":false},"axis":null},"y":{"field":"g","type":"nominal","axis":null},"text":{"field":"lab"}}}
  ]}
 ]}
]},
{"spacing":17,"vconcat":[
 {"spacing":8,"bounds":"flush","hconcat":[
   {"width":40,"height":102,"data":{"name":"ONE"},"mark":{"type":"text","text":"C","fontSize":14,"fontWeight":"bold","baseline":"middle","align":"center"},"encoding":{"x":{"datum":0.2,"type":"quantitative","scale":{"domain":[0,1]},"axis":null},"y":{"datum":1.216,"type":"quantitative","scale":{"domain":[0,1]},"axis":null}}},
   {"width":100,"height":102,"layer":[
    {"data":{"name":"PER"},"mark":{"type":"bar"},"encoding":{"x":{"field":"p","type":"nominal","scale":{"domain":["LP","DP"],"paddingInner":0,"paddingOuter":0},"axis":{"title":null,"labelAngle":0,"tickBand":"extent","tickSize":5,"labelPadding":4}},"y":{"datum":0,"type":"quantitative","scale":{"domain":[0,36],"nice":false}},"y2":{"datum":36},"fill":{"condition":{"test":"datum.p=='DP'","value":"#E6E7E6"},"value":"transparent"}}},
    {"data":{"name":"PER"},"transform":[{"filter":"datum.p=='DP'"}],"mark":{"type":"rule","strokeWidth":4,"color":"#231F20"},"encoding":{"y":{"datum":38,"type":"quantitative","scale":{"domain":[0,36],"nice":false}}}},
    {"data":{"name":"PER"},"transform":[{"filter":"datum.p=='DP'"}],"mark":{"type":"text","text":"21 °C","baseline":"middle","fontSize":12},"encoding":{"x":{"field":"p","type":"nominal","bandPosition":0},"y":{"datum":40.2,"type":"quantitative","scale":{"domain":[0,36],"nice":false}}}},
    {"data":{"name":"BL"},"transform":[{"filter":"datum.q=='C'&&datum.c==1"}],"encoding":{"x":{"field":"p","type":"nominal"},"xOffset":{"field":"g","type":"nominal","scale":{"domain":["a","b","c"],"paddingInner":0.08,"paddingOuter":0.7}}},"layer":[
     {"mark":{"type":"bar","stroke":"#231F20","strokeWidth":1},"encoding":{"y":{"field":"m","type":"quantitative","scale":{"domain":[0,36],"nice":false},"axis":{"title":"# of Episodes","values":[0,12,24,36],"titlePadding":11}},"fill":{"field":"g","type":"nominal","scale":{"domain":["a","b","c"],"range":["#E8731F","#A7A9AC","#6D6E71"]},"legend":null}}},
     {"mark":{"type":"rule","strokeWidth":1.3},"encoding":{"y":{"field":"lo","type":"quantitative","scale":{"domain":[0,36],"nice":false}},"y2":{"field":"hi"}}},
     {"mark":{"type":"tick"},"encoding":{"y":{"field":"lo","type":"quantitative","scale":{"domain":[0,36],"nice":false}}}},
     {"mark":{"type":"tick"},"encoding":{"y":{"field":"hi","type":"quantitative","scale":{"domain":[0,36],"nice":false}}}}
    ]},
    {"data":{"name":"SL"},"transform":[{"filter":"datum.q=='C'&&datum.c==1"}],"mark":{"type":"text","align":"left","baseline":"middle","fontSize":11.5},"encoding":{"x":{"field":"p","type":"nominal","bandPosition":0.12},"y":{"field":"y","type":"quantitative","scale":{"domain":[0,36],"nice":false}},"text":{"field":"s"}}}
   ]},
   {"width":100,"height":102,"layer":[
    {"data":{"name":"PER"},"mark":{"type":"bar"},"encoding":{"x":{"field":"p","type":"nominal","scale":{"domain":["LP","DP"],"paddingInner":0,"paddingOuter":0},"axis":{"title":null,"labelAngle":0,"tickBand":"extent","tickSize":5,"labelPadding":4}},"y":{"datum":0,"type":"quantitative","scale":{"domain":[0,36],"nice":false},"axis":null},"y2":{"datum":36},"fill":{"condition":{"test":"datum.p=='DP'","value":"#E6E7E6"},"value":"transparent"}}},
    {"data":{"name":"PER"},"transform":[{"filter":"datum.p=='DP'"}],"mark":{"type":"rule","strokeWidth":4,"color":"#ED1C24"},"encoding":{"y":{"datum":38,"type":"quantitative","scale":{"domain":[0,36],"nice":false},"axis":null}}},
    {"data":{"name":"PER"},"transform":[{"filter":"datum.p=='DP'"}],"mark":{"type":"text","text":"27 °C","baseline":"middle","fontSize":12,"color":"#ED1C24"},"encoding":{"x":{"field":"p","type":"nominal","bandPosition":0},"y":{"datum":40.2,"type":"quantitative","scale":{"domain":[0,36],"nice":false},"axis":null}}},
    {"data":{"name":"BL"},"transform":[{"filter":"datum.q=='C'&&datum.c==2"}],"encoding":{"x":{"field":"p","type":"nominal"},"xOffset":{"field":"g","type":"nominal","scale":{"domain":["a","b","c"],"paddingInner":0.08,"paddingOuter":0.7}}},"layer":[
     {"mark":{"type":"bar","stroke":"#231F20","strokeWidth":1},"encoding":{"y":{"field":"m","type":"quantitative","scale":{"domain":[0,36],"nice":false},"axis":null},"fill":{"field":"g","type":"nominal","scale":{"domain":["a","b","c"],"range":["#E8731F","#A7A9AC","#6D6E71"]},"legend":null}}},
     {"mark":{"type":"rule","strokeWidth":1.3},"encoding":{"y":{"field":"lo","type":"quantitative","scale":{"domain":[0,36],"nice":false},"axis":null},"y2":{"field":"hi"}}},
     {"mark":{"type":"tick"},"encoding":{"y":{"field":"lo","type":"quantitative","scale":{"domain":[0,36],"nice":false},"axis":null}}},
     {"mark":{"type":"tick"},"encoding":{"y":{"field":"hi","type":"quantitative","scale":{"domain":[0,36],"nice":false},"axis":null}}}
    ]},
    {"data":{"name":"SL"},"transform":[{"filter":"datum.q=='C'&&datum.c==2"}],"mark":{"type":"text","align":"left","baseline":"middle","fontSize":11.5},"encoding":{"x":{"field":"p","type":"nominal","bandPosition":0.12},"y":{"field":"y","type":"quantitative","scale":{"domain":[0,36],"nice":false},"axis":null},"text":{"field":"s"}}}
   ]},
   {"width":100,"height":102,"layer":[
    {"data":{"name":"PER"},"mark":{"type":"bar"},"encoding":{"x":{"field":"p","type":"nominal","scale":{"domain":["LP","DP"],"paddingInner":0,"paddingOuter":0},"axis":{"title":null,"labelAngle":0,"tickBand":"extent","tickSize":5,"labelPadding":4}},"y":{"datum":0,"type":"quantitative","scale":{"domain":[0,36],"nice":false},"axis":null},"y2":{"datum":36},"fill":{"condition":{"test":"datum.p=='DP'","value":"#E6E7E6"},"value":"transparent"}}},
    {"data":{"name":"PER"},"transform":[{"filter":"datum.p=='DP'"}],"mark":{"type":"rule","strokeWidth":4,"color":"#231F20"},"encoding":{"y":{"datum":38,"type":"quantitative","scale":{"domain":[0,36],"nice":false},"axis":null}}},
    {"data":{"name":"PER"},"transform":[{"filter":"datum.p=='DP'"}],"mark":{"type":"text","text":"21 °C","baseline":"middle","fontSize":12},"encoding":{"x":{"field":"p","type":"nominal","bandPosition":0},"y":{"datum":40.2,"type":"quantitative","scale":{"domain":[0,36],"nice":false},"axis":null}}},
    {"data":{"name":"BL"},"transform":[{"filter":"datum.q=='C'&&datum.c==3"}],"encoding":{"x":{"field":"p","type":"nominal"},"xOffset":{"field":"g","type":"nominal","scale":{"domain":["a","b","c"],"paddingInner":0.08,"paddingOuter":0.7}}},"layer":[
     {"mark":{"type":"bar","stroke":"#231F20","strokeWidth":1},"encoding":{"y":{"field":"m","type":"quantitative","scale":{"domain":[0,36],"nice":false},"axis":null},"fill":{"field":"g","type":"nominal","scale":{"domain":["a","b","c"],"range":["#E8731F","#A7A9AC","#6D6E71"]},"legend":null}}},
     {"mark":{"type":"rule","strokeWidth":1.3},"encoding":{"y":{"field":"lo","type":"quantitative","scale":{"domain":[0,36],"nice":false},"axis":null},"y2":{"field":"hi"}}},
     {"mark":{"type":"tick"},"encoding":{"y":{"field":"lo","type":"quantitative","scale":{"domain":[0,36],"nice":false},"axis":null}}},
     {"mark":{"type":"tick"},"encoding":{"y":{"field":"hi","type":"quantitative","scale":{"domain":[0,36],"nice":false},"axis":null}}}
    ]},
    {"data":{"name":"SL"},"transform":[{"filter":"datum.q=='C'&&datum.c==3"}],"mark":{"type":"text","align":"left","baseline":"middle","fontSize":11.5},"encoding":{"x":{"field":"p","type":"nominal","bandPosition":0.12},"y":{"field":"y","type":"quantitative","scale":{"domain":[0,36],"nice":false},"axis":null},"text":{"field":"s"}}}
   ]},
  {"width":43,"height":101,"data":{"name":"ONE"},"mark":{"type":"text","text":"D","fontSize":14,"fontWeight":"bold","baseline":"middle","align":"center"},"encoding":{"x":{"datum":0.25,"type":"quantitative","scale":{"domain":[0,1]},"axis":null},"y":{"datum":1.218,"type":"quantitative","scale":{"domain":[0,1]},"axis":null}}},
  {"width":190,"height":101,"layer":[
   {"data":{"name":"K"},"mark":{"type":"bar"},"encoding":{"x":{"field":"k","type":"nominal","scale":{"domain":["ALP","ADP","RLP","RDP"],"paddingInner":0,"paddingOuter":0},"axis":{"title":null,"labelAngle":0,"labelExpr":"substring(datum.label,1)","domain":false,"ticks":false,"tickSize":0,"labelPadding":9}},"y":{"datum":-5,"type":"quantitative","scale":{"domain":[-5,25],"nice":false}},"y2":{"datum":25},"fill":{"condition":{"test":"datum.k=='ADP'||datum.k=='RDP'","value":"#E6E7E6"},"value":"transparent"}}},
   {"data":{"name":"K"},"mark":{"type":"bar"},"encoding":{"x":{"field":"k","type":"nominal"},"y":{"datum":26.2,"type":"quantitative","scale":{"domain":[-5,25],"nice":false}},"y2":{"datum":27.4},"fill":{"condition":{"test":"datum.k=='ALP'||datum.k=='ADP'","value":"#ED1C24"},"value":"#231F20"}}},
   {"data":{"name":"K"},"transform":[{"filter":"datum.k=='ADP'"}],"mark":{"type":"text","text":"Activation-Baseline","baseline":"middle","fontSize":11},"encoding":{"x":{"field":"k","type":"nominal","bandPosition":0},"y":{"datum":33.9,"type":"quantitative","scale":{"domain":[-5,25],"nice":false}}}},
   {"data":{"name":"K"},"transform":[{"filter":"datum.k=='RDP'"}],"mark":{"type":"text","text":"Recovery-Baseline","baseline":"middle","fontSize":11},"encoding":{"x":{"field":"k","type":"nominal","bandPosition":0},"y":{"datum":33.9,"type":"quantitative","scale":{"domain":[-5,25],"nice":false}}}},
   {"data":{"name":"K"},"transform":[{"filter":"datum.k=='ADP'"}],"mark":{"type":"text","text":"27 °C","baseline":"middle","fontSize":12,"color":"#ED1C24"},"encoding":{"x":{"field":"k","type":"nominal","bandPosition":0},"y":{"datum":29.2,"type":"quantitative","scale":{"domain":[-5,25],"nice":false}}}},
   {"data":{"name":"K"},"transform":[{"filter":"datum.k=='RDP'"}],"mark":{"type":"text","text":"21 °C","baseline":"middle","fontSize":12},"encoding":{"x":{"field":"k","type":"nominal","bandPosition":0},"y":{"datum":29.2,"type":"quantitative","scale":{"domain":[-5,25],"nice":false}}}},
   {"data":{"name":"BR"},"transform":[{"filter":"datum.q=='D'"}],"encoding":{"x":{"field":"k","type":"nominal"},"xOffset":{"field":"g","type":"nominal","scale":{"domain":["a","b","c"],"paddingInner":0.08,"paddingOuter":0.7}}},"layer":[
    {"mark":{"type":"bar","stroke":"#231F20","strokeWidth":1},"encoding":{"y":{"field":"m","type":"quantitative","scale":{"domain":[-5,25],"nice":false},"axis":{"title":"Δ # of Episodes","values":[-5,5,15,25],"titlePadding":11,"labelExpr":"replace(datum.label,'−','-')"}},"fill":{"field":"g","type":"nominal","scale":{"domain":["a","b","c"],"range":["#E8731F","#A7A9AC","#6D6E71"]},"legend":null}}},
    {"mark":{"type":"rule","strokeWidth":1.3},"encoding":{"y":{"field":"lo","type":"quantitative","scale":{"domain":[-5,25],"nice":false}},"y2":{"field":"hi"}}},
    {"mark":{"type":"tick"},"encoding":{"y":{"field":"lo","type":"quantitative","scale":{"domain":[-5,25],"nice":false}}}},
    {"mark":{"type":"tick"},"encoding":{"y":{"field":"hi","type":"quantitative","scale":{"domain":[-5,25],"nice":false}}}}
   ]},
   {"data":{"name":"K"},"transform":[{"filter":"datum.k=='ALP'"}],"mark":{"type":"rule","strokeWidth":1.3},"encoding":{"y":{"datum":0,"type":"quantitative","scale":{"domain":[-5,25],"nice":false}}}},
   {"data":{"name":"SR"},"transform":[{"filter":"datum.q=='D'"}],"mark":{"type":"text","align":"left","baseline":"middle","fontSize":11.5},"encoding":{"x":{"field":"k","type":"nominal","bandPosition":0.1},"y":{"field":"y","type":"quantitative","scale":{"domain":[-5,25],"nice":false}},"text":{"field":"s"}}}
  ]}
 ]},
 {"spacing":8,"bounds":"flush","hconcat":[
   {"width":40,"height":101,"data":{"name":"ONE"},"mark":{"type":"text","text":"E","fontSize":14,"fontWeight":"bold","baseline":"middle","align":"center"},"encoding":{"x":{"datum":0.2,"type":"quantitative","scale":{"domain":[0,1]},"axis":null},"y":{"datum":1.267,"type":"quantitative","scale":{"domain":[0,1]},"axis":null}}},
   {"width":100,"height":101,"layer":[
    {"data":{"name":"PER"},"mark":{"type":"bar"},"encoding":{"x":{"field":"p","type":"nominal","scale":{"domain":["LP","DP"],"paddingInner":0,"paddingOuter":0},"axis":{"title":null,"labelAngle":0,"tickBand":"extent","tickSize":5,"labelPadding":4}},"y":{"datum":0,"type":"quantitative","scale":{"domain":[0,45],"nice":false}},"y2":{"datum":45},"fill":{"condition":{"test":"datum.p=='DP'","value":"#E6E7E6"},"value":"transparent"}}},
    {"data":{"name":"PER"},"transform":[{"filter":"datum.p=='DP'"}],"mark":{"type":"text","text":"baseline","baseline":"middle","fontSize":12},"encoding":{"x":{"field":"p","type":"nominal","bandPosition":0},"y":{"datum":50.3,"type":"quantitative","scale":{"domain":[0,45],"nice":false}}}},
    {"data":{"name":"BL"},"transform":[{"filter":"datum.q=='E'&&datum.c==1"}],"encoding":{"x":{"field":"p","type":"nominal"},"xOffset":{"field":"g","type":"nominal","scale":{"domain":["a","b","c"],"paddingInner":0.08,"paddingOuter":0.7}}},"layer":[
     {"transform":[{"filter":"datum.g=='a'"}],"mark":{"type":"bar","stroke":"#231F20","strokeWidth":1.2,"fill":{"gradient":"linear","x1":0,"y1":0,"x2":0.25,"y2":1,"stops":[{"offset":0,"color":"#ffffff"},{"offset":0.06,"color":"#ffffff"},{"offset":0.06,"color":"#E8731F"},{"offset":0.13,"color":"#E8731F"},{"offset":0.13,"color":"#ffffff"},{"offset":0.26,"color":"#ffffff"},{"offset":0.26,"color":"#E8731F"},{"offset":0.33,"color":"#E8731F"},{"offset":0.33,"color":"#ffffff"},{"offset":0.46,"color":"#ffffff"},{"offset":0.46,"color":"#E8731F"},{"offset":0.53,"color":"#E8731F"},{"offset":0.53,"color":"#ffffff"},{"offset":0.66,"color":"#ffffff"},{"offset":0.66,"color":"#E8731F"},{"offset":0.73,"color":"#E8731F"},{"offset":0.73,"color":"#ffffff"},{"offset":0.86,"color":"#ffffff"},{"offset":0.86,"color":"#E8731F"},{"offset":0.93,"color":"#E8731F"},{"offset":0.93,"color":"#ffffff"},{"offset":1,"color":"#ffffff"}]}},"encoding":{"y":{"field":"m","type":"quantitative","scale":{"domain":[0,45],"nice":false},"axis":{"title":"# of Episodes","values":[0,15,30,45],"titlePadding":11}}}},
     {"transform":[{"filter":"datum.g=='b'"}],"mark":{"type":"bar","stroke":"#231F20","strokeWidth":1.2,"fill":{"gradient":"linear","x1":0,"y1":0,"x2":0.25,"y2":1,"stops":[{"offset":0,"color":"#ffffff"},{"offset":0.06,"color":"#ffffff"},{"offset":0.06,"color":"#8A8A8A"},{"offset":0.13,"color":"#8A8A8A"},{"offset":0.13,"color":"#ffffff"},{"offset":0.26,"color":"#ffffff"},{"offset":0.26,"color":"#8A8A8A"},{"offset":0.33,"color":"#8A8A8A"},{"offset":0.33,"color":"#ffffff"},{"offset":0.46,"color":"#ffffff"},{"offset":0.46,"color":"#8A8A8A"},{"offset":0.53,"color":"#8A8A8A"},{"offset":0.53,"color":"#ffffff"},{"offset":0.66,"color":"#ffffff"},{"offset":0.66,"color":"#8A8A8A"},{"offset":0.73,"color":"#8A8A8A"},{"offset":0.73,"color":"#ffffff"},{"offset":0.86,"color":"#ffffff"},{"offset":0.86,"color":"#8A8A8A"},{"offset":0.93,"color":"#8A8A8A"},{"offset":0.93,"color":"#ffffff"},{"offset":1,"color":"#ffffff"}]}},"encoding":{"y":{"field":"m","type":"quantitative","scale":{"domain":[0,45],"nice":false}}}},
     {"transform":[{"filter":"datum.g=='c'"}],"mark":{"type":"bar","stroke":"#231F20","strokeWidth":1.2,"fill":{"gradient":"linear","x1":0,"y1":0,"x2":0.25,"y2":1,"stops":[{"offset":0,"color":"#ffffff"},{"offset":0.06,"color":"#ffffff"},{"offset":0.06,"color":"#231F20"},{"offset":0.13,"color":"#231F20"},{"offset":0.13,"color":"#ffffff"},{"offset":0.26,"color":"#ffffff"},{"offset":0.26,"color":"#231F20"},{"offset":0.33,"color":"#231F20"},{"offset":0.33,"color":"#ffffff"},{"offset":0.46,"color":"#ffffff"},{"offset":0.46,"color":"#231F20"},{"offset":0.53,"color":"#231F20"},{"offset":0.53,"color":"#ffffff"},{"offset":0.66,"color":"#ffffff"},{"offset":0.66,"color":"#231F20"},{"offset":0.73,"color":"#231F20"},{"offset":0.73,"color":"#ffffff"},{"offset":0.86,"color":"#ffffff"},{"offset":0.86,"color":"#231F20"},{"offset":0.93,"color":"#231F20"},{"offset":0.93,"color":"#ffffff"},{"offset":1,"color":"#ffffff"}]}},"encoding":{"y":{"field":"m","type":"quantitative","scale":{"domain":[0,45],"nice":false}}}},
     {"mark":{"type":"rule","strokeWidth":1.3},"encoding":{"y":{"field":"lo","type":"quantitative","scale":{"domain":[0,45],"nice":false}},"y2":{"field":"hi"}}},
     {"mark":{"type":"tick"},"encoding":{"y":{"field":"lo","type":"quantitative","scale":{"domain":[0,45],"nice":false}}}},
     {"mark":{"type":"tick"},"encoding":{"y":{"field":"hi","type":"quantitative","scale":{"domain":[0,45],"nice":false}}}}
    ]},
    {"data":{"name":"SL"},"transform":[{"filter":"datum.q=='E'&&datum.c==1"}],"mark":{"type":"text","align":"left","baseline":"middle","fontSize":11.5},"encoding":{"x":{"field":"p","type":"nominal","bandPosition":0.12},"y":{"field":"y","type":"quantitative","scale":{"domain":[0,45],"nice":false}},"text":{"field":"s"}}}
   ]},
   {"width":100,"height":101,"layer":[
    {"data":{"name":"PER"},"mark":{"type":"bar"},"encoding":{"x":{"field":"p","type":"nominal","scale":{"domain":["LP","DP"],"paddingInner":0,"paddingOuter":0},"axis":{"title":null,"labelAngle":0,"tickBand":"extent","tickSize":5,"labelPadding":4}},"y":{"datum":0,"type":"quantitative","scale":{"domain":[0,45],"nice":false},"axis":null},"y2":{"datum":45},"fill":{"condition":{"test":"datum.p=='LP'","value":"#F8CBCE"},"value":"#E3B3B6"}}},
    {"data":{"name":"PER"},"transform":[{"filter":"datum.p=='DP'"}],"mark":{"type":"text","text":"Red Light On","baseline":"middle","fontSize":12,"color":"#ED1C24"},"encoding":{"x":{"field":"p","type":"nominal","bandPosition":0},"y":{"datum":50.3,"type":"quantitative","scale":{"domain":[0,45],"nice":false},"axis":null}}},
    {"data":{"name":"BL"},"transform":[{"filter":"datum.q=='E'&&datum.c==2"}],"encoding":{"x":{"field":"p","type":"nominal"},"xOffset":{"field":"g","type":"nominal","scale":{"domain":["a","b","c"],"paddingInner":0.08,"paddingOuter":0.7}}},"layer":[
     {"transform":[{"filter":"datum.g=='a'"}],"mark":{"type":"bar","stroke":"#231F20","strokeWidth":1.2,"fill":{"gradient":"linear","x1":0,"y1":0,"x2":0.25,"y2":1,"stops":[{"offset":0,"color":"#ffffff"},{"offset":0.06,"color":"#ffffff"},{"offset":0.06,"color":"#E8731F"},{"offset":0.13,"color":"#E8731F"},{"offset":0.13,"color":"#ffffff"},{"offset":0.26,"color":"#ffffff"},{"offset":0.26,"color":"#E8731F"},{"offset":0.33,"color":"#E8731F"},{"offset":0.33,"color":"#ffffff"},{"offset":0.46,"color":"#ffffff"},{"offset":0.46,"color":"#E8731F"},{"offset":0.53,"color":"#E8731F"},{"offset":0.53,"color":"#ffffff"},{"offset":0.66,"color":"#ffffff"},{"offset":0.66,"color":"#E8731F"},{"offset":0.73,"color":"#E8731F"},{"offset":0.73,"color":"#ffffff"},{"offset":0.86,"color":"#ffffff"},{"offset":0.86,"color":"#E8731F"},{"offset":0.93,"color":"#E8731F"},{"offset":0.93,"color":"#ffffff"},{"offset":1,"color":"#ffffff"}]}},"encoding":{"y":{"field":"m","type":"quantitative","scale":{"domain":[0,45],"nice":false},"axis":null}}},
     {"transform":[{"filter":"datum.g=='b'"}],"mark":{"type":"bar","stroke":"#231F20","strokeWidth":1.2,"fill":{"gradient":"linear","x1":0,"y1":0,"x2":0.25,"y2":1,"stops":[{"offset":0,"color":"#ffffff"},{"offset":0.06,"color":"#ffffff"},{"offset":0.06,"color":"#8A8A8A"},{"offset":0.13,"color":"#8A8A8A"},{"offset":0.13,"color":"#ffffff"},{"offset":0.26,"color":"#ffffff"},{"offset":0.26,"color":"#8A8A8A"},{"offset":0.33,"color":"#8A8A8A"},{"offset":0.33,"color":"#ffffff"},{"offset":0.46,"color":"#ffffff"},{"offset":0.46,"color":"#8A8A8A"},{"offset":0.53,"color":"#8A8A8A"},{"offset":0.53,"color":"#ffffff"},{"offset":0.66,"color":"#ffffff"},{"offset":0.66,"color":"#8A8A8A"},{"offset":0.73,"color":"#8A8A8A"},{"offset":0.73,"color":"#ffffff"},{"offset":0.86,"color":"#ffffff"},{"offset":0.86,"color":"#8A8A8A"},{"offset":0.93,"color":"#8A8A8A"},{"offset":0.93,"color":"#ffffff"},{"offset":1,"color":"#ffffff"}]}},"encoding":{"y":{"field":"m","type":"quantitative","scale":{"domain":[0,45],"nice":false},"axis":null}}},
     {"transform":[{"filter":"datum.g=='c'"}],"mark":{"type":"bar","stroke":"#231F20","strokeWidth":1.2,"fill":{"gradient":"linear","x1":0,"y1":0,"x2":0.25,"y2":1,"stops":[{"offset":0,"color":"#ffffff"},{"offset":0.06,"color":"#ffffff"},{"offset":0.06,"color":"#231F20"},{"offset":0.13,"color":"#231F20"},{"offset":0.13,"color":"#ffffff"},{"offset":0.26,"color":"#ffffff"},{"offset":0.26,"color":"#231F20"},{"offset":0.33,"color":"#231F20"},{"offset":0.33,"color":"#ffffff"},{"offset":0.46,"color":"#ffffff"},{"offset":0.46,"color":"#231F20"},{"offset":0.53,"color":"#231F20"},{"offset":0.53,"color":"#ffffff"},{"offset":0.66,"color":"#ffffff"},{"offset":0.66,"color":"#231F20"},{"offset":0.73,"color":"#231F20"},{"offset":0.73,"color":"#ffffff"},{"offset":0.86,"color":"#ffffff"},{"offset":0.86,"color":"#231F20"},{"offset":0.93,"color":"#231F20"},{"offset":0.93,"color":"#ffffff"},{"offset":1,"color":"#ffffff"}]}},"encoding":{"y":{"field":"m","type":"quantitative","scale":{"domain":[0,45],"nice":false},"axis":null}}},
     {"mark":{"type":"rule","strokeWidth":1.3},"encoding":{"y":{"field":"lo","type":"quantitative","scale":{"domain":[0,45],"nice":false},"axis":null},"y2":{"field":"hi"}}},
     {"mark":{"type":"tick"},"encoding":{"y":{"field":"lo","type":"quantitative","scale":{"domain":[0,45],"nice":false},"axis":null}}},
     {"mark":{"type":"tick"},"encoding":{"y":{"field":"hi","type":"quantitative","scale":{"domain":[0,45],"nice":false},"axis":null}}}
    ]},
    {"data":{"name":"SL"},"transform":[{"filter":"datum.q=='E'&&datum.c==2"}],"mark":{"type":"text","align":"left","baseline":"middle","fontSize":11.5},"encoding":{"x":{"field":"p","type":"nominal","bandPosition":0.12},"y":{"field":"y","type":"quantitative","scale":{"domain":[0,45],"nice":false},"axis":null},"text":{"field":"s"}}}
   ]},
   {"width":100,"height":101,"layer":[
    {"data":{"name":"PER"},"mark":{"type":"bar"},"encoding":{"x":{"field":"p","type":"nominal","scale":{"domain":["LP","DP"],"paddingInner":0,"paddingOuter":0},"axis":{"title":null,"labelAngle":0,"tickBand":"extent","tickSize":5,"labelPadding":4}},"y":{"datum":0,"type":"quantitative","scale":{"domain":[0,45],"nice":false},"axis":null},"y2":{"datum":45},"fill":{"condition":{"test":"datum.p=='DP'","value":"#E6E7E6"},"value":"transparent"}}},
    {"data":{"name":"PER"},"transform":[{"filter":"datum.p=='DP'"}],"mark":{"type":"text","text":"Recovery","baseline":"middle","fontSize":12},"encoding":{"x":{"field":"p","type":"nominal","bandPosition":0},"y":{"datum":50.3,"type":"quantitative","scale":{"domain":[0,45],"nice":false},"axis":null}}},
    {"data":{"name":"BL"},"transform":[{"filter":"datum.q=='E'&&datum.c==3"}],"encoding":{"x":{"field":"p","type":"nominal"},"xOffset":{"field":"g","type":"nominal","scale":{"domain":["a","b","c"],"paddingInner":0.08,"paddingOuter":0.7}}},"layer":[
     {"transform":[{"filter":"datum.g=='a'"}],"mark":{"type":"bar","stroke":"#231F20","strokeWidth":1.2,"fill":{"gradient":"linear","x1":0,"y1":0,"x2":0.25,"y2":1,"stops":[{"offset":0,"color":"#ffffff"},{"offset":0.06,"color":"#ffffff"},{"offset":0.06,"color":"#E8731F"},{"offset":0.13,"color":"#E8731F"},{"offset":0.13,"color":"#ffffff"},{"offset":0.26,"color":"#ffffff"},{"offset":0.26,"color":"#E8731F"},{"offset":0.33,"color":"#E8731F"},{"offset":0.33,"color":"#ffffff"},{"offset":0.46,"color":"#ffffff"},{"offset":0.46,"color":"#E8731F"},{"offset":0.53,"color":"#E8731F"},{"offset":0.53,"color":"#ffffff"},{"offset":0.66,"color":"#ffffff"},{"offset":0.66,"color":"#E8731F"},{"offset":0.73,"color":"#E8731F"},{"offset":0.73,"color":"#ffffff"},{"offset":0.86,"color":"#ffffff"},{"offset":0.86,"color":"#E8731F"},{"offset":0.93,"color":"#E8731F"},{"offset":0.93,"color":"#ffffff"},{"offset":1,"color":"#ffffff"}]}},"encoding":{"y":{"field":"m","type":"quantitative","scale":{"domain":[0,45],"nice":false},"axis":null}}},
     {"transform":[{"filter":"datum.g=='b'"}],"mark":{"type":"bar","stroke":"#231F20","strokeWidth":1.2,"fill":{"gradient":"linear","x1":0,"y1":0,"x2":0.25,"y2":1,"stops":[{"offset":0,"color":"#ffffff"},{"offset":0.06,"color":"#ffffff"},{"offset":0.06,"color":"#8A8A8A"},{"offset":0.13,"color":"#8A8A8A"},{"offset":0.13,"color":"#ffffff"},{"offset":0.26,"color":"#ffffff"},{"offset":0.26,"color":"#8A8A8A"},{"offset":0.33,"color":"#8A8A8A"},{"offset":0.33,"color":"#ffffff"},{"offset":0.46,"color":"#ffffff"},{"offset":0.46,"color":"#8A8A8A"},{"offset":0.53,"color":"#8A8A8A"},{"offset":0.53,"color":"#ffffff"},{"offset":0.66,"color":"#ffffff"},{"offset":0.66,"color":"#8A8A8A"},{"offset":0.73,"color":"#8A8A8A"},{"offset":0.73,"color":"#ffffff"},{"offset":0.86,"color":"#ffffff"},{"offset":0.86,"color":"#8A8A8A"},{"offset":0.93,"color":"#8A8A8A"},{"offset":0.93,"color":"#ffffff"},{"offset":1,"color":"#ffffff"}]}},"encoding":{"y":{"field":"m","type":"quantitative","scale":{"domain":[0,45],"nice":false},"axis":null}}},
     {"transform":[{"filter":"datum.g=='c'"}],"mark":{"type":"bar","stroke":"#231F20","strokeWidth":1.2,"fill":{"gradient":"linear","x1":0,"y1":0,"x2":0.25,"y2":1,"stops":[{"offset":0,"color":"#ffffff"},{"offset":0.06,"color":"#ffffff"},{"offset":0.06,"color":"#231F20"},{"offset":0.13,"color":"#231F20"},{"offset":0.13,"color":"#ffffff"},{"offset":0.26,"color":"#ffffff"},{"offset":0.26,"color":"#231F20"},{"offset":0.33,"color":"#231F20"},{"offset":0.33,"color":"#ffffff"},{"offset":0.46,"color":"#ffffff"},{"offset":0.46,"color":"#231F20"},{"offset":0.53,"color":"#231F20"},{"offset":0.53,"color":"#ffffff"},{"offset":0.66,"color":"#ffffff"},{"offset":0.66,"color":"#231F20"},{"offset":0.73,"color":"#231F20"},{"offset":0.73,"color":"#ffffff"},{"offset":0.86,"color":"#ffffff"},{"offset":0.86,"color":"#231F20"},{"offset":0.93,"color":"#231F20"},{"offset":0.93,"color":"#ffffff"},{"offset":1,"color":"#ffffff"}]}},"encoding":{"y":{"field":"m","type":"quantitative","scale":{"domain":[0,45],"nice":false},"axis":null}}},
     {"mark":{"type":"rule","strokeWidth":1.3},"encoding":{"y":{"field":"lo","type":"quantitative","scale":{"domain":[0,45],"nice":false},"axis":null},"y2":{"field":"hi"}}},
     {"mark":{"type":"tick"},"encoding":{"y":{"field":"lo","type":"quantitative","scale":{"domain":[0,45],"nice":false},"axis":null}}},
     {"mark":{"type":"tick"},"encoding":{"y":{"field":"hi","type":"quantitative","scale":{"domain":[0,45],"nice":false},"axis":null}}}
    ]},
    {"data":{"name":"SL"},"transform":[{"filter":"datum.q=='E'&&datum.c==3"}],"mark":{"type":"text","align":"left","baseline":"middle","fontSize":11.5},"encoding":{"x":{"field":"p","type":"nominal","bandPosition":0.12},"y":{"field":"y","type":"quantitative","scale":{"domain":[0,45],"nice":false},"axis":null},"text":{"field":"s"}}}
   ]},
  {"width":43,"height":101,"data":{"name":"ONE"},"mark":{"type":"text","text":"F","fontSize":14,"fontWeight":"bold","baseline":"middle","align":"center"},"encoding":{"x":{"datum":0.2,"type":"quantitative","scale":{"domain":[0,1]},"axis":null},"y":{"datum":1.267,"type":"quantitative","scale":{"domain":[0,1]},"axis":null}}},
  {"width":190,"height":101,"layer":[
   {"data":{"name":"K"},"mark":{"type":"bar"},"encoding":{"x":{"field":"k","type":"nominal","scale":{"domain":["ALP","ADP","RLP","RDP"],"paddingInner":0,"paddingOuter":0},"axis":{"title":null,"labelAngle":0,"labelExpr":"substring(datum.label,1)","domain":false,"ticks":false,"tickSize":0,"labelPadding":9}},"y":{"datum":-5,"type":"quantitative","scale":{"domain":[-5,40],"nice":false}},"y2":{"datum":40},"fill":{"condition":[{"test":"datum.k=='ALP'","value":"#F8CBCE"},{"test":"datum.k=='ADP'","value":"#E3B3B6"},{"test":"datum.k=='RDP'","value":"#E6E7E6"}],"value":"transparent"}}},
   {"data":{"name":"K"},"transform":[{"filter":"datum.k=='ADP'"}],"mark":{"type":"text","text":"Activation-Baseline","baseline":"middle","fontSize":11},"encoding":{"x":{"field":"k","type":"nominal","bandPosition":0},"y":{"datum":51.1,"type":"quantitative","scale":{"domain":[-5,40],"nice":false}}}},
   {"data":{"name":"K"},"transform":[{"filter":"datum.k=='RDP'"}],"mark":{"type":"text","text":"Recovery-Baseline","baseline":"middle","fontSize":11},"encoding":{"x":{"field":"k","type":"nominal","bandPosition":0},"y":{"datum":51.1,"type":"quantitative","scale":{"domain":[-5,40],"nice":false}}}},
   {"data":{"name":"K"},"transform":[{"filter":"datum.k=='ADP'"}],"mark":{"type":"text","text":"Red Light On","baseline":"middle","fontSize":12,"color":"#ED1C24"},"encoding":{"x":{"field":"k","type":"nominal","bandPosition":0},"y":{"datum":45.3,"type":"quantitative","scale":{"domain":[-5,40],"nice":false}}}},
   {"data":{"name":"K"},"transform":[{"filter":"datum.k=='RDP'"}],"mark":{"type":"text","text":"Recovery","baseline":"middle","fontSize":12},"encoding":{"x":{"field":"k","type":"nominal","bandPosition":0},"y":{"datum":45.3,"type":"quantitative","scale":{"domain":[-5,40],"nice":false}}}},
   {"data":{"name":"BR"},"transform":[{"filter":"datum.q=='F'"}],"encoding":{"x":{"field":"k","type":"nominal"},"xOffset":{"field":"g","type":"nominal","scale":{"domain":["a","b","c"],"paddingInner":0.08,"paddingOuter":0.7}}},"layer":[
    {"transform":[{"filter":"datum.g=='a'"}],"mark":{"type":"bar","stroke":"#231F20","strokeWidth":1.2,"fill":{"gradient":"linear","x1":0,"y1":0,"x2":0.25,"y2":1,"stops":[{"offset":0,"color":"#ffffff"},{"offset":0.06,"color":"#ffffff"},{"offset":0.06,"color":"#E8731F"},{"offset":0.13,"color":"#E8731F"},{"offset":0.13,"color":"#ffffff"},{"offset":0.26,"color":"#ffffff"},{"offset":0.26,"color":"#E8731F"},{"offset":0.33,"color":"#E8731F"},{"offset":0.33,"color":"#ffffff"},{"offset":0.46,"color":"#ffffff"},{"offset":0.46,"color":"#E8731F"},{"offset":0.53,"color":"#E8731F"},{"offset":0.53,"color":"#ffffff"},{"offset":0.66,"color":"#ffffff"},{"offset":0.66,"color":"#E8731F"},{"offset":0.73,"color":"#E8731F"},{"offset":0.73,"color":"#ffffff"},{"offset":0.86,"color":"#ffffff"},{"offset":0.86,"color":"#E8731F"},{"offset":0.93,"color":"#E8731F"},{"offset":0.93,"color":"#ffffff"},{"offset":1,"color":"#ffffff"}]}},"encoding":{"y":{"field":"m","type":"quantitative","scale":{"domain":[-5,40],"nice":false},"axis":{"title":"Δ # of Episodes","values":[-5,10,25,40],"titlePadding":11,"labelExpr":"replace(datum.label,'−','-')"}}}},
    {"transform":[{"filter":"datum.g=='b'"}],"mark":{"type":"bar","stroke":"#231F20","strokeWidth":1.2,"fill":{"gradient":"linear","x1":0,"y1":0,"x2":0.25,"y2":1,"stops":[{"offset":0,"color":"#ffffff"},{"offset":0.06,"color":"#ffffff"},{"offset":0.06,"color":"#8A8A8A"},{"offset":0.13,"color":"#8A8A8A"},{"offset":0.13,"color":"#ffffff"},{"offset":0.26,"color":"#ffffff"},{"offset":0.26,"color":"#8A8A8A"},{"offset":0.33,"color":"#8A8A8A"},{"offset":0.33,"color":"#ffffff"},{"offset":0.46,"color":"#ffffff"},{"offset":0.46,"color":"#8A8A8A"},{"offset":0.53,"color":"#8A8A8A"},{"offset":0.53,"color":"#ffffff"},{"offset":0.66,"color":"#ffffff"},{"offset":0.66,"color":"#8A8A8A"},{"offset":0.73,"color":"#8A8A8A"},{"offset":0.73,"color":"#ffffff"},{"offset":0.86,"color":"#ffffff"},{"offset":0.86,"color":"#8A8A8A"},{"offset":0.93,"color":"#8A8A8A"},{"offset":0.93,"color":"#ffffff"},{"offset":1,"color":"#ffffff"}]}},"encoding":{"y":{"field":"m","type":"quantitative","scale":{"domain":[-5,40],"nice":false}}}},
    {"transform":[{"filter":"datum.g=='c'"}],"mark":{"type":"bar","stroke":"#231F20","strokeWidth":1.2,"fill":{"gradient":"linear","x1":0,"y1":0,"x2":0.25,"y2":1,"stops":[{"offset":0,"color":"#ffffff"},{"offset":0.06,"color":"#ffffff"},{"offset":0.06,"color":"#231F20"},{"offset":0.13,"color":"#231F20"},{"offset":0.13,"color":"#ffffff"},{"offset":0.26,"color":"#ffffff"},{"offset":0.26,"color":"#231F20"},{"offset":0.33,"color":"#231F20"},{"offset":0.33,"color":"#ffffff"},{"offset":0.46,"color":"#ffffff"},{"offset":0.46,"color":"#231F20"},{"offset":0.53,"color":"#231F20"},{"offset":0.53,"color":"#ffffff"},{"offset":0.66,"color":"#ffffff"},{"offset":0.66,"color":"#231F20"},{"offset":0.73,"color":"#231F20"},{"offset":0.73,"color":"#ffffff"},{"offset":0.86,"color":"#ffffff"},{"offset":0.86,"color":"#231F20"},{"offset":0.93,"color":"#231F20"},{"offset":0.93,"color":"#ffffff"},{"offset":1,"color":"#ffffff"}]}},"encoding":{"y":{"field":"m","type":"quantitative","scale":{"domain":[-5,40],"nice":false}}}},
    {"mark":{"type":"rule","strokeWidth":1.3},"encoding":{"y":{"field":"lo","type":"quantitative","scale":{"domain":[-5,40],"nice":false}},"y2":{"field":"hi"}}},
    {"mark":{"type":"tick"},"encoding":{"y":{"field":"lo","type":"quantitative","scale":{"domain":[-5,40],"nice":false}}}},
    {"mark":{"type":"tick"},"encoding":{"y":{"field":"hi","type":"quantitative","scale":{"domain":[-5,40],"nice":false}}}}
   ]},
   {"data":{"name":"K"},"transform":[{"filter":"datum.k=='ALP'"}],"mark":{"type":"rule","strokeWidth":1.3},"encoding":{"y":{"datum":0,"type":"quantitative","scale":{"domain":[-5,40],"nice":false}}}},
   {"data":{"name":"SR"},"transform":[{"filter":"datum.q=='F'"}],"mark":{"type":"text","align":"left","baseline":"middle","fontSize":11.5},"encoding":{"x":{"field":"k","type":"nominal","bandPosition":0.1},"y":{"field":"y","type":"quantitative","scale":{"domain":[-5,40],"nice":false}},"text":{"field":"s"}}}
  ]}
 ]},
 {"spacing":8,"bounds":"flush","hconcat":[
   {"width":40,"height":103,"data":{"name":"ONE"},"mark":{"type":"text","text":"G","fontSize":14,"fontWeight":"bold","baseline":"middle","align":"center"},"encoding":{"x":{"datum":0.2,"type":"quantitative","scale":{"domain":[0,1]},"axis":null},"y":{"datum":1.301,"type":"quantitative","scale":{"domain":[0,1]},"axis":null}}},
   {"width":100,"height":103,"layer":[
    {"data":{"name":"PER"},"mark":{"type":"bar"},"encoding":{"x":{"field":"p","type":"nominal","scale":{"domain":["LP","DP"],"paddingInner":0,"paddingOuter":0},"axis":{"title":null,"labelAngle":0,"tickBand":"extent","tickSize":5,"labelPadding":4}},"y":{"datum":0,"type":"quantitative","scale":{"domain":[0,810],"nice":false}},"y2":{"datum":810},"fill":{"condition":{"test":"datum.p=='DP'","value":"#E6E7E6"},"value":"transparent"}}},
    {"data":{"name":"PER"},"transform":[{"filter":"datum.p=='DP'"}],"mark":{"type":"rule","strokeWidth":4,"color":"#231F20"},"encoding":{"y":{"datum":853,"type":"quantitative","scale":{"domain":[0,810],"nice":false}}}},
    {"data":{"name":"PER"},"transform":[{"filter":"datum.p=='DP'"}],"mark":{"type":"text","text":"21 °C","baseline":"middle","fontSize":12},"encoding":{"x":{"field":"p","type":"nominal","bandPosition":0},"y":{"datum":903,"type":"quantitative","scale":{"domain":[0,810],"nice":false}}}},
    {"data":{"name":"BL"},"transform":[{"filter":"datum.q=='G'&&datum.c==1"}],"encoding":{"x":{"field":"p","type":"nominal"},"xOffset":{"field":"g","type":"nominal","scale":{"domain":["a","b","c"],"paddingInner":0.08,"paddingOuter":0.7}}},"layer":[
     {"mark":{"type":"bar","stroke":"#231F20","strokeWidth":1},"encoding":{"y":{"field":"m","type":"quantitative","scale":{"domain":[0,810],"nice":false},"axis":{"title":"Total Sleep (min)","values":[0,270,540,810],"titlePadding":4}},"fill":{"field":"g","type":"nominal","scale":{"domain":["a","b","c"],"range":["#E8731F","#A7A9AC","#6D6E71"]},"legend":null}}},
     {"mark":{"type":"rule","strokeWidth":1.3},"encoding":{"y":{"field":"lo","type":"quantitative","scale":{"domain":[0,810],"nice":false}},"y2":{"field":"hi"}}},
     {"mark":{"type":"tick"},"encoding":{"y":{"field":"lo","type":"quantitative","scale":{"domain":[0,810],"nice":false}}}},
     {"mark":{"type":"tick"},"encoding":{"y":{"field":"hi","type":"quantitative","scale":{"domain":[0,810],"nice":false}}}}
    ]},
    {"data":{"name":"SL"},"transform":[{"filter":"datum.q=='G'&&datum.c==1"}],"mark":{"type":"text","align":"left","baseline":"middle","fontSize":11.5},"encoding":{"x":{"field":"p","type":"nominal","bandPosition":0.12},"y":{"field":"y","type":"quantitative","scale":{"domain":[0,810],"nice":false}},"text":{"field":"s"}}}
   ]},
   {"width":100,"height":103,"layer":[
    {"data":{"name":"PER"},"mark":{"type":"bar"},"encoding":{"x":{"field":"p","type":"nominal","scale":{"domain":["LP","DP"],"paddingInner":0,"paddingOuter":0},"axis":{"title":null,"labelAngle":0,"tickBand":"extent","tickSize":5,"labelPadding":4}},"y":{"datum":0,"type":"quantitative","scale":{"domain":[0,810],"nice":false},"axis":null},"y2":{"datum":810},"fill":{"condition":{"test":"datum.p=='DP'","value":"#E6E7E6"},"value":"transparent"}}},
    {"data":{"name":"PER"},"transform":[{"filter":"datum.p=='DP'"}],"mark":{"type":"rule","strokeWidth":4,"color":"#ED1C24"},"encoding":{"y":{"datum":853,"type":"quantitative","scale":{"domain":[0,810],"nice":false},"axis":null}}},
    {"data":{"name":"PER"},"transform":[{"filter":"datum.p=='DP'"}],"mark":{"type":"text","text":"27 °C","baseline":"middle","fontSize":12,"color":"#ED1C24"},"encoding":{"x":{"field":"p","type":"nominal","bandPosition":0},"y":{"datum":903,"type":"quantitative","scale":{"domain":[0,810],"nice":false},"axis":null}}},
    {"data":{"name":"BL"},"transform":[{"filter":"datum.q=='G'&&datum.c==2"}],"encoding":{"x":{"field":"p","type":"nominal"},"xOffset":{"field":"g","type":"nominal","scale":{"domain":["a","b","c"],"paddingInner":0.08,"paddingOuter":0.7}}},"layer":[
     {"mark":{"type":"bar","stroke":"#231F20","strokeWidth":1},"encoding":{"y":{"field":"m","type":"quantitative","scale":{"domain":[0,810],"nice":false},"axis":null},"fill":{"field":"g","type":"nominal","scale":{"domain":["a","b","c"],"range":["#E8731F","#A7A9AC","#6D6E71"]},"legend":null}}},
     {"mark":{"type":"rule","strokeWidth":1.3},"encoding":{"y":{"field":"lo","type":"quantitative","scale":{"domain":[0,810],"nice":false},"axis":null},"y2":{"field":"hi"}}},
     {"mark":{"type":"tick"},"encoding":{"y":{"field":"lo","type":"quantitative","scale":{"domain":[0,810],"nice":false},"axis":null}}},
     {"mark":{"type":"tick"},"encoding":{"y":{"field":"hi","type":"quantitative","scale":{"domain":[0,810],"nice":false},"axis":null}}}
    ]},
    {"data":{"name":"SL"},"transform":[{"filter":"datum.q=='G'&&datum.c==2"}],"mark":{"type":"text","align":"left","baseline":"middle","fontSize":11.5},"encoding":{"x":{"field":"p","type":"nominal","bandPosition":0.12},"y":{"field":"y","type":"quantitative","scale":{"domain":[0,810],"nice":false},"axis":null},"text":{"field":"s"}}}
   ]},
   {"width":100,"height":103,"layer":[
    {"data":{"name":"PER"},"mark":{"type":"bar"},"encoding":{"x":{"field":"p","type":"nominal","scale":{"domain":["LP","DP"],"paddingInner":0,"paddingOuter":0},"axis":{"title":null,"labelAngle":0,"tickBand":"extent","tickSize":5,"labelPadding":4}},"y":{"datum":0,"type":"quantitative","scale":{"domain":[0,810],"nice":false},"axis":null},"y2":{"datum":810},"fill":{"condition":{"test":"datum.p=='DP'","value":"#E6E7E6"},"value":"transparent"}}},
    {"data":{"name":"PER"},"transform":[{"filter":"datum.p=='DP'"}],"mark":{"type":"rule","strokeWidth":4,"color":"#231F20"},"encoding":{"y":{"datum":853,"type":"quantitative","scale":{"domain":[0,810],"nice":false},"axis":null}}},
    {"data":{"name":"PER"},"transform":[{"filter":"datum.p=='DP'"}],"mark":{"type":"text","text":"21 °C","baseline":"middle","fontSize":12},"encoding":{"x":{"field":"p","type":"nominal","bandPosition":0},"y":{"datum":903,"type":"quantitative","scale":{"domain":[0,810],"nice":false},"axis":null}}},
    {"data":{"name":"BL"},"transform":[{"filter":"datum.q=='G'&&datum.c==3"}],"encoding":{"x":{"field":"p","type":"nominal"},"xOffset":{"field":"g","type":"nominal","scale":{"domain":["a","b","c"],"paddingInner":0.08,"paddingOuter":0.7}}},"layer":[
     {"mark":{"type":"bar","stroke":"#231F20","strokeWidth":1},"encoding":{"y":{"field":"m","type":"quantitative","scale":{"domain":[0,810],"nice":false},"axis":null},"fill":{"field":"g","type":"nominal","scale":{"domain":["a","b","c"],"range":["#E8731F","#A7A9AC","#6D6E71"]},"legend":null}}},
     {"mark":{"type":"rule","strokeWidth":1.3},"encoding":{"y":{"field":"lo","type":"quantitative","scale":{"domain":[0,810],"nice":false},"axis":null},"y2":{"field":"hi"}}},
     {"mark":{"type":"tick"},"encoding":{"y":{"field":"lo","type":"quantitative","scale":{"domain":[0,810],"nice":false},"axis":null}}},
     {"mark":{"type":"tick"},"encoding":{"y":{"field":"hi","type":"quantitative","scale":{"domain":[0,810],"nice":false},"axis":null}}}
    ]},
    {"data":{"name":"SL"},"transform":[{"filter":"datum.q=='G'&&datum.c==3"}],"mark":{"type":"text","align":"left","baseline":"middle","fontSize":11.5},"encoding":{"x":{"field":"p","type":"nominal","bandPosition":0.12},"y":{"field":"y","type":"quantitative","scale":{"domain":[0,810],"nice":false},"axis":null},"text":{"field":"s"}}}
   ]},
  {"width":43,"height":102,"data":{"name":"ONE"},"mark":{"type":"text","text":"H","fontSize":14,"fontWeight":"bold","baseline":"middle","align":"center"},"encoding":{"x":{"datum":0.2,"type":"quantitative","scale":{"domain":[0,1]},"axis":null},"y":{"datum":1.309,"type":"quantitative","scale":{"domain":[0,1]},"axis":null}}},
  {"width":190,"height":102,"layer":[
   {"data":{"name":"K"},"mark":{"type":"bar"},"encoding":{"x":{"field":"k","type":"nominal","scale":{"domain":["ALP","ADP","RLP","RDP"],"paddingInner":0,"paddingOuter":0},"axis":{"title":null,"labelAngle":0,"labelExpr":"substring(datum.label,1)","domain":false,"ticks":false,"tickSize":0,"labelPadding":9}},"y":{"datum":-100,"type":"quantitative","scale":{"domain":[-100,200],"nice":false}},"y2":{"datum":200},"fill":{"condition":{"test":"datum.k=='ADP'||datum.k=='RDP'","value":"#E6E7E6"},"value":"transparent"}}},
   {"data":{"name":"K"},"mark":{"type":"bar"},"encoding":{"x":{"field":"k","type":"nominal"},"y":{"datum":210,"type":"quantitative","scale":{"domain":[-100,200],"nice":false}},"y2":{"datum":222},"fill":{"condition":{"test":"datum.k=='ALP'||datum.k=='ADP'","value":"#ED1C24"},"value":"#231F20"}}},
   {"data":{"name":"K"},"transform":[{"filter":"datum.k=='ADP'"}],"mark":{"type":"text","text":"Activation-Baseline","baseline":"middle","fontSize":11},"encoding":{"x":{"field":"k","type":"nominal","bandPosition":0},"y":{"datum":290,"type":"quantitative","scale":{"domain":[-100,200],"nice":false}}}},
   {"data":{"name":"K"},"transform":[{"filter":"datum.k=='RDP'"}],"mark":{"type":"text","text":"Recovery-Baseline","baseline":"middle","fontSize":11},"encoding":{"x":{"field":"k","type":"nominal","bandPosition":0},"y":{"datum":290,"type":"quantitative","scale":{"domain":[-100,200],"nice":false}}}},
   {"data":{"name":"K"},"transform":[{"filter":"datum.k=='ADP'"}],"mark":{"type":"text","text":"27 °C","baseline":"middle","fontSize":12,"color":"#ED1C24"},"encoding":{"x":{"field":"k","type":"nominal","bandPosition":0},"y":{"datum":246,"type":"quantitative","scale":{"domain":[-100,200],"nice":false}}}},
   {"data":{"name":"K"},"transform":[{"filter":"datum.k=='RDP'"}],"mark":{"type":"text","text":"21 °C","baseline":"middle","fontSize":12},"encoding":{"x":{"field":"k","type":"nominal","bandPosition":0},"y":{"datum":246,"type":"quantitative","scale":{"domain":[-100,200],"nice":false}}}},
   {"data":{"name":"BR"},"transform":[{"filter":"datum.q=='H'"}],"encoding":{"x":{"field":"k","type":"nominal"},"xOffset":{"field":"g","type":"nominal","scale":{"domain":["a","b","c"],"paddingInner":0.08,"paddingOuter":0.7}}},"layer":[
    {"mark":{"type":"bar","stroke":"#231F20","strokeWidth":1},"encoding":{"y":{"field":"m","type":"quantitative","scale":{"domain":[-100,200],"nice":false},"axis":{"title":"Δ Total Sleep (min)","values":[-100,0,100,200],"titlePadding":2,"labelExpr":"replace(datum.label,'−','-')"}},"fill":{"field":"g","type":"nominal","scale":{"domain":["a","b","c"],"range":["#E8731F","#A7A9AC","#6D6E71"]},"legend":null}}},
    {"mark":{"type":"rule","strokeWidth":1.3},"encoding":{"y":{"field":"lo","type":"quantitative","scale":{"domain":[-100,200],"nice":false}},"y2":{"field":"hi"}}},
    {"mark":{"type":"tick"},"encoding":{"y":{"field":"lo","type":"quantitative","scale":{"domain":[-100,200],"nice":false}}}},
    {"mark":{"type":"tick"},"encoding":{"y":{"field":"hi","type":"quantitative","scale":{"domain":[-100,200],"nice":false}}}}
   ]},
   {"data":{"name":"K"},"transform":[{"filter":"datum.k=='ALP'"}],"mark":{"type":"rule","strokeWidth":1.3},"encoding":{"y":{"datum":0,"type":"quantitative","scale":{"domain":[-100,200],"nice":false}}}},
   {"data":{"name":"SR"},"transform":[{"filter":"datum.q=='H'"}],"mark":{"type":"text","align":"left","baseline":"middle","fontSize":11.5},"encoding":{"x":{"field":"k","type":"nominal","bandPosition":0.1},"y":{"field":"y","type":"quantitative","scale":{"domain":[-100,200],"nice":false}},"text":{"field":"s"}}}
  ]}
 ]},
 {"spacing":8,"bounds":"flush","hconcat":[
   {"width":40,"height":104,"data":{"name":"ONE"},"mark":{"type":"text","text":"I","fontSize":14,"fontWeight":"bold","baseline":"middle","align":"center"},"encoding":{"x":{"datum":0.15,"type":"quantitative","scale":{"domain":[0,1]},"axis":null},"y":{"datum":1.24,"type":"quantitative","scale":{"domain":[0,1]},"axis":null}}},
   {"width":100,"height":104,"layer":[
    {"data":{"name":"PER"},"mark":{"type":"bar"},"encoding":{"x":{"field":"p","type":"nominal","scale":{"domain":["LP","DP"],"paddingInner":0,"paddingOuter":0},"axis":{"title":null,"labelAngle":0,"tickBand":"extent","tickSize":5,"labelPadding":4}},"y":{"datum":0,"type":"quantitative","scale":{"domain":[0,810],"nice":false}},"y2":{"datum":810},"fill":{"condition":{"test":"datum.p=='DP'","value":"#E6E7E6"},"value":"transparent"}}},
    {"data":{"name":"PER"},"transform":[{"filter":"datum.p=='DP'"}],"mark":{"type":"text","text":"baseline","baseline":"middle","fontSize":12},"encoding":{"x":{"field":"p","type":"nominal","bandPosition":0},"y":{"datum":896,"type":"quantitative","scale":{"domain":[0,810],"nice":false}}}},
    {"data":{"name":"BL"},"transform":[{"filter":"datum.q=='I'&&datum.c==1"}],"encoding":{"x":{"field":"p","type":"nominal"},"xOffset":{"field":"g","type":"nominal","scale":{"domain":["a","b","c"],"paddingInner":0.08,"paddingOuter":0.7}}},"layer":[
     {"transform":[{"filter":"datum.g=='a'"}],"mark":{"type":"bar","stroke":"#231F20","strokeWidth":1.2,"fill":{"gradient":"linear","x1":0,"y1":0,"x2":0.25,"y2":1,"stops":[{"offset":0,"color":"#ffffff"},{"offset":0.06,"color":"#ffffff"},{"offset":0.06,"color":"#E8731F"},{"offset":0.13,"color":"#E8731F"},{"offset":0.13,"color":"#ffffff"},{"offset":0.26,"color":"#ffffff"},{"offset":0.26,"color":"#E8731F"},{"offset":0.33,"color":"#E8731F"},{"offset":0.33,"color":"#ffffff"},{"offset":0.46,"color":"#ffffff"},{"offset":0.46,"color":"#E8731F"},{"offset":0.53,"color":"#E8731F"},{"offset":0.53,"color":"#ffffff"},{"offset":0.66,"color":"#ffffff"},{"offset":0.66,"color":"#E8731F"},{"offset":0.73,"color":"#E8731F"},{"offset":0.73,"color":"#ffffff"},{"offset":0.86,"color":"#ffffff"},{"offset":0.86,"color":"#E8731F"},{"offset":0.93,"color":"#E8731F"},{"offset":0.93,"color":"#ffffff"},{"offset":1,"color":"#ffffff"}]}},"encoding":{"y":{"field":"m","type":"quantitative","scale":{"domain":[0,810],"nice":false},"axis":{"title":"Total Sleep (min)","values":[0,270,540,810],"titlePadding":4}}}},
     {"transform":[{"filter":"datum.g=='b'"}],"mark":{"type":"bar","stroke":"#231F20","strokeWidth":1.2,"fill":{"gradient":"linear","x1":0,"y1":0,"x2":0.25,"y2":1,"stops":[{"offset":0,"color":"#ffffff"},{"offset":0.06,"color":"#ffffff"},{"offset":0.06,"color":"#8A8A8A"},{"offset":0.13,"color":"#8A8A8A"},{"offset":0.13,"color":"#ffffff"},{"offset":0.26,"color":"#ffffff"},{"offset":0.26,"color":"#8A8A8A"},{"offset":0.33,"color":"#8A8A8A"},{"offset":0.33,"color":"#ffffff"},{"offset":0.46,"color":"#ffffff"},{"offset":0.46,"color":"#8A8A8A"},{"offset":0.53,"color":"#8A8A8A"},{"offset":0.53,"color":"#ffffff"},{"offset":0.66,"color":"#ffffff"},{"offset":0.66,"color":"#8A8A8A"},{"offset":0.73,"color":"#8A8A8A"},{"offset":0.73,"color":"#ffffff"},{"offset":0.86,"color":"#ffffff"},{"offset":0.86,"color":"#8A8A8A"},{"offset":0.93,"color":"#8A8A8A"},{"offset":0.93,"color":"#ffffff"},{"offset":1,"color":"#ffffff"}]}},"encoding":{"y":{"field":"m","type":"quantitative","scale":{"domain":[0,810],"nice":false}}}},
     {"transform":[{"filter":"datum.g=='c'"}],"mark":{"type":"bar","stroke":"#231F20","strokeWidth":1.2,"fill":{"gradient":"linear","x1":0,"y1":0,"x2":0.25,"y2":1,"stops":[{"offset":0,"color":"#ffffff"},{"offset":0.06,"color":"#ffffff"},{"offset":0.06,"color":"#231F20"},{"offset":0.13,"color":"#231F20"},{"offset":0.13,"color":"#ffffff"},{"offset":0.26,"color":"#ffffff"},{"offset":0.26,"color":"#231F20"},{"offset":0.33,"color":"#231F20"},{"offset":0.33,"color":"#ffffff"},{"offset":0.46,"color":"#ffffff"},{"offset":0.46,"color":"#231F20"},{"offset":0.53,"color":"#231F20"},{"offset":0.53,"color":"#ffffff"},{"offset":0.66,"color":"#ffffff"},{"offset":0.66,"color":"#231F20"},{"offset":0.73,"color":"#231F20"},{"offset":0.73,"color":"#ffffff"},{"offset":0.86,"color":"#ffffff"},{"offset":0.86,"color":"#231F20"},{"offset":0.93,"color":"#231F20"},{"offset":0.93,"color":"#ffffff"},{"offset":1,"color":"#ffffff"}]}},"encoding":{"y":{"field":"m","type":"quantitative","scale":{"domain":[0,810],"nice":false}}}},
     {"mark":{"type":"rule","strokeWidth":1.3},"encoding":{"y":{"field":"lo","type":"quantitative","scale":{"domain":[0,810],"nice":false}},"y2":{"field":"hi"}}},
     {"mark":{"type":"tick"},"encoding":{"y":{"field":"lo","type":"quantitative","scale":{"domain":[0,810],"nice":false}}}},
     {"mark":{"type":"tick"},"encoding":{"y":{"field":"hi","type":"quantitative","scale":{"domain":[0,810],"nice":false}}}}
    ]},
    {"data":{"name":"SL"},"transform":[{"filter":"datum.q=='I'&&datum.c==1"}],"mark":{"type":"text","align":"left","baseline":"middle","fontSize":11.5},"encoding":{"x":{"field":"p","type":"nominal","bandPosition":0.12},"y":{"field":"y","type":"quantitative","scale":{"domain":[0,810],"nice":false}},"text":{"field":"s"}}}
   ]},
   {"width":100,"height":104,"layer":[
    {"data":{"name":"PER"},"mark":{"type":"bar"},"encoding":{"x":{"field":"p","type":"nominal","scale":{"domain":["LP","DP"],"paddingInner":0,"paddingOuter":0},"axis":{"title":null,"labelAngle":0,"tickBand":"extent","tickSize":5,"labelPadding":4}},"y":{"datum":0,"type":"quantitative","scale":{"domain":[0,810],"nice":false},"axis":null},"y2":{"datum":810},"fill":{"condition":{"test":"datum.p=='LP'","value":"#F8CBCE"},"value":"#E3B3B6"}}},
    {"data":{"name":"PER"},"transform":[{"filter":"datum.p=='DP'"}],"mark":{"type":"text","text":"Red Light On","baseline":"middle","fontSize":12,"color":"#ED1C24"},"encoding":{"x":{"field":"p","type":"nominal","bandPosition":0},"y":{"datum":896,"type":"quantitative","scale":{"domain":[0,810],"nice":false},"axis":null}}},
    {"data":{"name":"BL"},"transform":[{"filter":"datum.q=='I'&&datum.c==2"}],"encoding":{"x":{"field":"p","type":"nominal"},"xOffset":{"field":"g","type":"nominal","scale":{"domain":["a","b","c"],"paddingInner":0.08,"paddingOuter":0.7}}},"layer":[
     {"transform":[{"filter":"datum.g=='a'"}],"mark":{"type":"bar","stroke":"#231F20","strokeWidth":1.2,"fill":{"gradient":"linear","x1":0,"y1":0,"x2":0.25,"y2":1,"stops":[{"offset":0,"color":"#ffffff"},{"offset":0.06,"color":"#ffffff"},{"offset":0.06,"color":"#E8731F"},{"offset":0.13,"color":"#E8731F"},{"offset":0.13,"color":"#ffffff"},{"offset":0.26,"color":"#ffffff"},{"offset":0.26,"color":"#E8731F"},{"offset":0.33,"color":"#E8731F"},{"offset":0.33,"color":"#ffffff"},{"offset":0.46,"color":"#ffffff"},{"offset":0.46,"color":"#E8731F"},{"offset":0.53,"color":"#E8731F"},{"offset":0.53,"color":"#ffffff"},{"offset":0.66,"color":"#ffffff"},{"offset":0.66,"color":"#E8731F"},{"offset":0.73,"color":"#E8731F"},{"offset":0.73,"color":"#ffffff"},{"offset":0.86,"color":"#ffffff"},{"offset":0.86,"color":"#E8731F"},{"offset":0.93,"color":"#E8731F"},{"offset":0.93,"color":"#ffffff"},{"offset":1,"color":"#ffffff"}]}},"encoding":{"y":{"field":"m","type":"quantitative","scale":{"domain":[0,810],"nice":false},"axis":null}}},
     {"transform":[{"filter":"datum.g=='b'"}],"mark":{"type":"bar","stroke":"#231F20","strokeWidth":1.2,"fill":{"gradient":"linear","x1":0,"y1":0,"x2":0.25,"y2":1,"stops":[{"offset":0,"color":"#ffffff"},{"offset":0.06,"color":"#ffffff"},{"offset":0.06,"color":"#8A8A8A"},{"offset":0.13,"color":"#8A8A8A"},{"offset":0.13,"color":"#ffffff"},{"offset":0.26,"color":"#ffffff"},{"offset":0.26,"color":"#8A8A8A"},{"offset":0.33,"color":"#8A8A8A"},{"offset":0.33,"color":"#ffffff"},{"offset":0.46,"color":"#ffffff"},{"offset":0.46,"color":"#8A8A8A"},{"offset":0.53,"color":"#8A8A8A"},{"offset":0.53,"color":"#ffffff"},{"offset":0.66,"color":"#ffffff"},{"offset":0.66,"color":"#8A8A8A"},{"offset":0.73,"color":"#8A8A8A"},{"offset":0.73,"color":"#ffffff"},{"offset":0.86,"color":"#ffffff"},{"offset":0.86,"color":"#8A8A8A"},{"offset":0.93,"color":"#8A8A8A"},{"offset":0.93,"color":"#ffffff"},{"offset":1,"color":"#ffffff"}]}},"encoding":{"y":{"field":"m","type":"quantitative","scale":{"domain":[0,810],"nice":false},"axis":null}}},
     {"transform":[{"filter":"datum.g=='c'"}],"mark":{"type":"bar","stroke":"#231F20","strokeWidth":1.2,"fill":{"gradient":"linear","x1":0,"y1":0,"x2":0.25,"y2":1,"stops":[{"offset":0,"color":"#ffffff"},{"offset":0.06,"color":"#ffffff"},{"offset":0.06,"color":"#231F20"},{"offset":0.13,"color":"#231F20"},{"offset":0.13,"color":"#ffffff"},{"offset":0.26,"color":"#ffffff"},{"offset":0.26,"color":"#231F20"},{"offset":0.33,"color":"#231F20"},{"offset":0.33,"color":"#ffffff"},{"offset":0.46,"color":"#ffffff"},{"offset":0.46,"color":"#231F20"},{"offset":0.53,"color":"#231F20"},{"offset":0.53,"color":"#ffffff"},{"offset":0.66,"color":"#ffffff"},{"offset":0.66,"color":"#231F20"},{"offset":0.73,"color":"#231F20"},{"offset":0.73,"color":"#ffffff"},{"offset":0.86,"color":"#ffffff"},{"offset":0.86,"color":"#231F20"},{"offset":0.93,"color":"#231F20"},{"offset":0.93,"color":"#ffffff"},{"offset":1,"color":"#ffffff"}]}},"encoding":{"y":{"field":"m","type":"quantitative","scale":{"domain":[0,810],"nice":false},"axis":null}}},
     {"mark":{"type":"rule","strokeWidth":1.3},"encoding":{"y":{"field":"lo","type":"quantitative","scale":{"domain":[0,810],"nice":false},"axis":null},"y2":{"field":"hi"}}},
     {"mark":{"type":"tick"},"encoding":{"y":{"field":"lo","type":"quantitative","scale":{"domain":[0,810],"nice":false},"axis":null}}},
     {"mark":{"type":"tick"},"encoding":{"y":{"field":"hi","type":"quantitative","scale":{"domain":[0,810],"nice":false},"axis":null}}}
    ]},
    {"data":{"name":"SL"},"transform":[{"filter":"datum.q=='I'&&datum.c==2"}],"mark":{"type":"text","align":"left","baseline":"middle","fontSize":11.5},"encoding":{"x":{"field":"p","type":"nominal","bandPosition":0.12},"y":{"field":"y","type":"quantitative","scale":{"domain":[0,810],"nice":false},"axis":null},"text":{"field":"s"}}}
   ]},
   {"width":100,"height":104,"layer":[
    {"data":{"name":"PER"},"mark":{"type":"bar"},"encoding":{"x":{"field":"p","type":"nominal","scale":{"domain":["LP","DP"],"paddingInner":0,"paddingOuter":0},"axis":{"title":null,"labelAngle":0,"tickBand":"extent","tickSize":5,"labelPadding":4}},"y":{"datum":0,"type":"quantitative","scale":{"domain":[0,810],"nice":false},"axis":null},"y2":{"datum":810},"fill":{"condition":{"test":"datum.p=='DP'","value":"#E6E7E6"},"value":"transparent"}}},
    {"data":{"name":"PER"},"transform":[{"filter":"datum.p=='DP'"}],"mark":{"type":"text","text":"Recovery","baseline":"middle","fontSize":12},"encoding":{"x":{"field":"p","type":"nominal","bandPosition":0},"y":{"datum":896,"type":"quantitative","scale":{"domain":[0,810],"nice":false},"axis":null}}},
    {"data":{"name":"BL"},"transform":[{"filter":"datum.q=='I'&&datum.c==3"}],"encoding":{"x":{"field":"p","type":"nominal"},"xOffset":{"field":"g","type":"nominal","scale":{"domain":["a","b","c"],"paddingInner":0.08,"paddingOuter":0.7}}},"layer":[
     {"transform":[{"filter":"datum.g=='a'"}],"mark":{"type":"bar","stroke":"#231F20","strokeWidth":1.2,"fill":{"gradient":"linear","x1":0,"y1":0,"x2":0.25,"y2":1,"stops":[{"offset":0,"color":"#ffffff"},{"offset":0.06,"color":"#ffffff"},{"offset":0.06,"color":"#E8731F"},{"offset":0.13,"color":"#E8731F"},{"offset":0.13,"color":"#ffffff"},{"offset":0.26,"color":"#ffffff"},{"offset":0.26,"color":"#E8731F"},{"offset":0.33,"color":"#E8731F"},{"offset":0.33,"color":"#ffffff"},{"offset":0.46,"color":"#ffffff"},{"offset":0.46,"color":"#E8731F"},{"offset":0.53,"color":"#E8731F"},{"offset":0.53,"color":"#ffffff"},{"offset":0.66,"color":"#ffffff"},{"offset":0.66,"color":"#E8731F"},{"offset":0.73,"color":"#E8731F"},{"offset":0.73,"color":"#ffffff"},{"offset":0.86,"color":"#ffffff"},{"offset":0.86,"color":"#E8731F"},{"offset":0.93,"color":"#E8731F"},{"offset":0.93,"color":"#ffffff"},{"offset":1,"color":"#ffffff"}]}},"encoding":{"y":{"field":"m","type":"quantitative","scale":{"domain":[0,810],"nice":false},"axis":null}}},
     {"transform":[{"filter":"datum.g=='b'"}],"mark":{"type":"bar","stroke":"#231F20","strokeWidth":1.2,"fill":{"gradient":"linear","x1":0,"y1":0,"x2":0.25,"y2":1,"stops":[{"offset":0,"color":"#ffffff"},{"offset":0.06,"color":"#ffffff"},{"offset":0.06,"color":"#8A8A8A"},{"offset":0.13,"color":"#8A8A8A"},{"offset":0.13,"color":"#ffffff"},{"offset":0.26,"color":"#ffffff"},{"offset":0.26,"color":"#8A8A8A"},{"offset":0.33,"color":"#8A8A8A"},{"offset":0.33,"color":"#ffffff"},{"offset":0.46,"color":"#ffffff"},{"offset":0.46,"color":"#8A8A8A"},{"offset":0.53,"color":"#8A8A8A"},{"offset":0.53,"color":"#ffffff"},{"offset":0.66,"color":"#ffffff"},{"offset":0.66,"color":"#8A8A8A"},{"offset":0.73,"color":"#8A8A8A"},{"offset":0.73,"color":"#ffffff"},{"offset":0.86,"color":"#ffffff"},{"offset":0.86,"color":"#8A8A8A"},{"offset":0.93,"color":"#8A8A8A"},{"offset":0.93,"color":"#ffffff"},{"offset":1,"color":"#ffffff"}]}},"encoding":{"y":{"field":"m","type":"quantitative","scale":{"domain":[0,810],"nice":false},"axis":null}}},
     {"transform":[{"filter":"datum.g=='c'"}],"mark":{"type":"bar","stroke":"#231F20","strokeWidth":1.2,"fill":{"gradient":"linear","x1":0,"y1":0,"x2":0.25,"y2":1,"stops":[{"offset":0,"color":"#ffffff"},{"offset":0.06,"color":"#ffffff"},{"offset":0.06,"color":"#231F20"},{"offset":0.13,"color":"#231F20"},{"offset":0.13,"color":"#ffffff"},{"offset":0.26,"color":"#ffffff"},{"offset":0.26,"color":"#231F20"},{"offset":0.33,"color":"#231F20"},{"offset":0.33,"color":"#ffffff"},{"offset":0.46,"color":"#ffffff"},{"offset":0.46,"color":"#231F20"},{"offset":0.53,"color":"#231F20"},{"offset":0.53,"color":"#ffffff"},{"offset":0.66,"color":"#ffffff"},{"offset":0.66,"color":"#231F20"},{"offset":0.73,"color":"#231F20"},{"offset":0.73,"color":"#ffffff"},{"offset":0.86,"color":"#ffffff"},{"offset":0.86,"color":"#231F20"},{"offset":0.93,"color":"#231F20"},{"offset":0.93,"color":"#ffffff"},{"offset":1,"color":"#ffffff"}]}},"encoding":{"y":{"field":"m","type":"quantitative","scale":{"domain":[0,810],"nice":false},"axis":null}}},
     {"mark":{"type":"rule","strokeWidth":1.3},"encoding":{"y":{"field":"lo","type":"quantitative","scale":{"domain":[0,810],"nice":false},"axis":null},"y2":{"field":"hi"}}},
     {"mark":{"type":"tick"},"encoding":{"y":{"field":"lo","type":"quantitative","scale":{"domain":[0,810],"nice":false},"axis":null}}},
     {"mark":{"type":"tick"},"encoding":{"y":{"field":"hi","type":"quantitative","scale":{"domain":[0,810],"nice":false},"axis":null}}}
    ]},
    {"data":{"name":"SL"},"transform":[{"filter":"datum.q=='I'&&datum.c==3"}],"mark":{"type":"text","align":"left","baseline":"middle","fontSize":11.5},"encoding":{"x":{"field":"p","type":"nominal","bandPosition":0.12},"y":{"field":"y","type":"quantitative","scale":{"domain":[0,810],"nice":false},"axis":null},"text":{"field":"s"}}}
   ]},
  {"width":43,"height":103,"data":{"name":"ONE"},"mark":{"type":"text","text":"J","fontSize":14,"fontWeight":"bold","baseline":"middle","align":"center"},"encoding":{"x":{"datum":0.17,"type":"quantitative","scale":{"domain":[0,1]},"axis":null},"y":{"datum":1.233,"type":"quantitative","scale":{"domain":[0,1]},"axis":null}}},
  {"width":190,"height":103,"layer":[
   {"data":{"name":"K"},"mark":{"type":"bar"},"encoding":{"x":{"field":"k","type":"nominal","scale":{"domain":["ALP","ADP","RLP","RDP"],"paddingInner":0,"paddingOuter":0},"axis":{"title":null,"labelAngle":0,"labelExpr":"substring(datum.label,1)","domain":false,"ticks":false,"tickSize":0,"labelPadding":9}},"y":{"datum":-600,"type":"quantitative","scale":{"domain":[-600,450],"nice":false}},"y2":{"datum":450},"fill":{"condition":[{"test":"datum.k=='ALP'","value":"#F8CBCE"},{"test":"datum.k=='ADP'","value":"#E3B3B6"},{"test":"datum.k=='RDP'","value":"#E6E7E6"}],"value":"transparent"}}},
   {"data":{"name":"K"},"transform":[{"filter":"datum.k=='ADP'"}],"mark":{"type":"text","text":"Activation-Baseline","baseline":"middle","fontSize":11},"encoding":{"x":{"field":"k","type":"nominal","bandPosition":0},"y":{"datum":695,"type":"quantitative","scale":{"domain":[-600,450],"nice":false}}}},
   {"data":{"name":"K"},"transform":[{"filter":"datum.k=='RDP'"}],"mark":{"type":"text","text":"Recovery-Baseline","baseline":"middle","fontSize":11},"encoding":{"x":{"field":"k","type":"nominal","bandPosition":0},"y":{"datum":695,"type":"quantitative","scale":{"domain":[-600,450],"nice":false}}}},
   {"data":{"name":"K"},"transform":[{"filter":"datum.k=='ADP'"}],"mark":{"type":"text","text":"Red Light On","baseline":"middle","fontSize":12,"color":"#ED1C24"},"encoding":{"x":{"field":"k","type":"nominal","bandPosition":0},"y":{"datum":552,"type":"quantitative","scale":{"domain":[-600,450],"nice":false}}}},
   {"data":{"name":"K"},"transform":[{"filter":"datum.k=='RDP'"}],"mark":{"type":"text","text":"Recovery","baseline":"middle","fontSize":12},"encoding":{"x":{"field":"k","type":"nominal","bandPosition":0},"y":{"datum":552,"type":"quantitative","scale":{"domain":[-600,450],"nice":false}}}},
   {"data":{"name":"BR"},"transform":[{"filter":"datum.q=='J'"}],"encoding":{"x":{"field":"k","type":"nominal"},"xOffset":{"field":"g","type":"nominal","scale":{"domain":["a","b","c"],"paddingInner":0.08,"paddingOuter":0.7}}},"layer":[
    {"transform":[{"filter":"datum.g=='a'"}],"mark":{"type":"bar","stroke":"#231F20","strokeWidth":1.2,"fill":{"gradient":"linear","x1":0,"y1":0,"x2":0.25,"y2":1,"stops":[{"offset":0,"color":"#ffffff"},{"offset":0.06,"color":"#ffffff"},{"offset":0.06,"color":"#E8731F"},{"offset":0.13,"color":"#E8731F"},{"offset":0.13,"color":"#ffffff"},{"offset":0.26,"color":"#ffffff"},{"offset":0.26,"color":"#E8731F"},{"offset":0.33,"color":"#E8731F"},{"offset":0.33,"color":"#ffffff"},{"offset":0.46,"color":"#ffffff"},{"offset":0.46,"color":"#E8731F"},{"offset":0.53,"color":"#E8731F"},{"offset":0.53,"color":"#ffffff"},{"offset":0.66,"color":"#ffffff"},{"offset":0.66,"color":"#E8731F"},{"offset":0.73,"color":"#E8731F"},{"offset":0.73,"color":"#ffffff"},{"offset":0.86,"color":"#ffffff"},{"offset":0.86,"color":"#E8731F"},{"offset":0.93,"color":"#E8731F"},{"offset":0.93,"color":"#ffffff"},{"offset":1,"color":"#ffffff"}]}},"encoding":{"y":{"field":"m","type":"quantitative","scale":{"domain":[-600,450],"nice":false},"axis":{"title":"Δ Total Sleep (min)","values":[-600,-250,100,450],"titlePadding":2,"labelExpr":"replace(datum.label,'−','-')"}}}},
    {"transform":[{"filter":"datum.g=='b'"}],"mark":{"type":"bar","stroke":"#231F20","strokeWidth":1.2,"fill":{"gradient":"linear","x1":0,"y1":0,"x2":0.25,"y2":1,"stops":[{"offset":0,"color":"#ffffff"},{"offset":0.06,"color":"#ffffff"},{"offset":0.06,"color":"#8A8A8A"},{"offset":0.13,"color":"#8A8A8A"},{"offset":0.13,"color":"#ffffff"},{"offset":0.26,"color":"#ffffff"},{"offset":0.26,"color":"#8A8A8A"},{"offset":0.33,"color":"#8A8A8A"},{"offset":0.33,"color":"#ffffff"},{"offset":0.46,"color":"#ffffff"},{"offset":0.46,"color":"#8A8A8A"},{"offset":0.53,"color":"#8A8A8A"},{"offset":0.53,"color":"#ffffff"},{"offset":0.66,"color":"#ffffff"},{"offset":0.66,"color":"#8A8A8A"},{"offset":0.73,"color":"#8A8A8A"},{"offset":0.73,"color":"#ffffff"},{"offset":0.86,"color":"#ffffff"},{"offset":0.86,"color":"#8A8A8A"},{"offset":0.93,"color":"#8A8A8A"},{"offset":0.93,"color":"#ffffff"},{"offset":1,"color":"#ffffff"}]}},"encoding":{"y":{"field":"m","type":"quantitative","scale":{"domain":[-600,450],"nice":false}}}},
    {"transform":[{"filter":"datum.g=='c'"}],"mark":{"type":"bar","stroke":"#231F20","strokeWidth":1.2,"fill":{"gradient":"linear","x1":0,"y1":0,"x2":0.25,"y2":1,"stops":[{"offset":0,"color":"#ffffff"},{"offset":0.06,"color":"#ffffff"},{"offset":0.06,"color":"#231F20"},{"offset":0.13,"color":"#231F20"},{"offset":0.13,"color":"#ffffff"},{"offset":0.26,"color":"#ffffff"},{"offset":0.26,"color":"#231F20"},{"offset":0.33,"color":"#231F20"},{"offset":0.33,"color":"#ffffff"},{"offset":0.46,"color":"#ffffff"},{"offset":0.46,"color":"#231F20"},{"offset":0.53,"color":"#231F20"},{"offset":0.53,"color":"#ffffff"},{"offset":0.66,"color":"#ffffff"},{"offset":0.66,"color":"#231F20"},{"offset":0.73,"color":"#231F20"},{"offset":0.73,"color":"#ffffff"},{"offset":0.86,"color":"#ffffff"},{"offset":0.86,"color":"#231F20"},{"offset":0.93,"color":"#231F20"},{"offset":0.93,"color":"#ffffff"},{"offset":1,"color":"#ffffff"}]}},"encoding":{"y":{"field":"m","type":"quantitative","scale":{"domain":[-600,450],"nice":false}}}},
    {"mark":{"type":"rule","strokeWidth":1.3},"encoding":{"y":{"field":"lo","type":"quantitative","scale":{"domain":[-600,450],"nice":false}},"y2":{"field":"hi"}}},
    {"mark":{"type":"tick"},"encoding":{"y":{"field":"lo","type":"quantitative","scale":{"domain":[-600,450],"nice":false}}}},
    {"mark":{"type":"tick"},"encoding":{"y":{"field":"hi","type":"quantitative","scale":{"domain":[-600,450],"nice":false}}}}
   ]},
   {"data":{"name":"K"},"transform":[{"filter":"datum.k=='ALP'"}],"mark":{"type":"rule","strokeWidth":1.3},"encoding":{"y":{"datum":0,"type":"quantitative","scale":{"domain":[-600,450],"nice":false}}}},
   {"data":{"name":"SR"},"transform":[{"filter":"datum.q=='J'"}],"mark":{"type":"text","align":"left","baseline":"middle","fontSize":11.5},"encoding":{"x":{"field":"k","type":"nominal","bandPosition":0.1},"y":{"field":"y","type":"quantitative","scale":{"domain":[-600,450],"nice":false}},"text":{"field":"s"}}}
  ]}
 ]}
]}
]
}
